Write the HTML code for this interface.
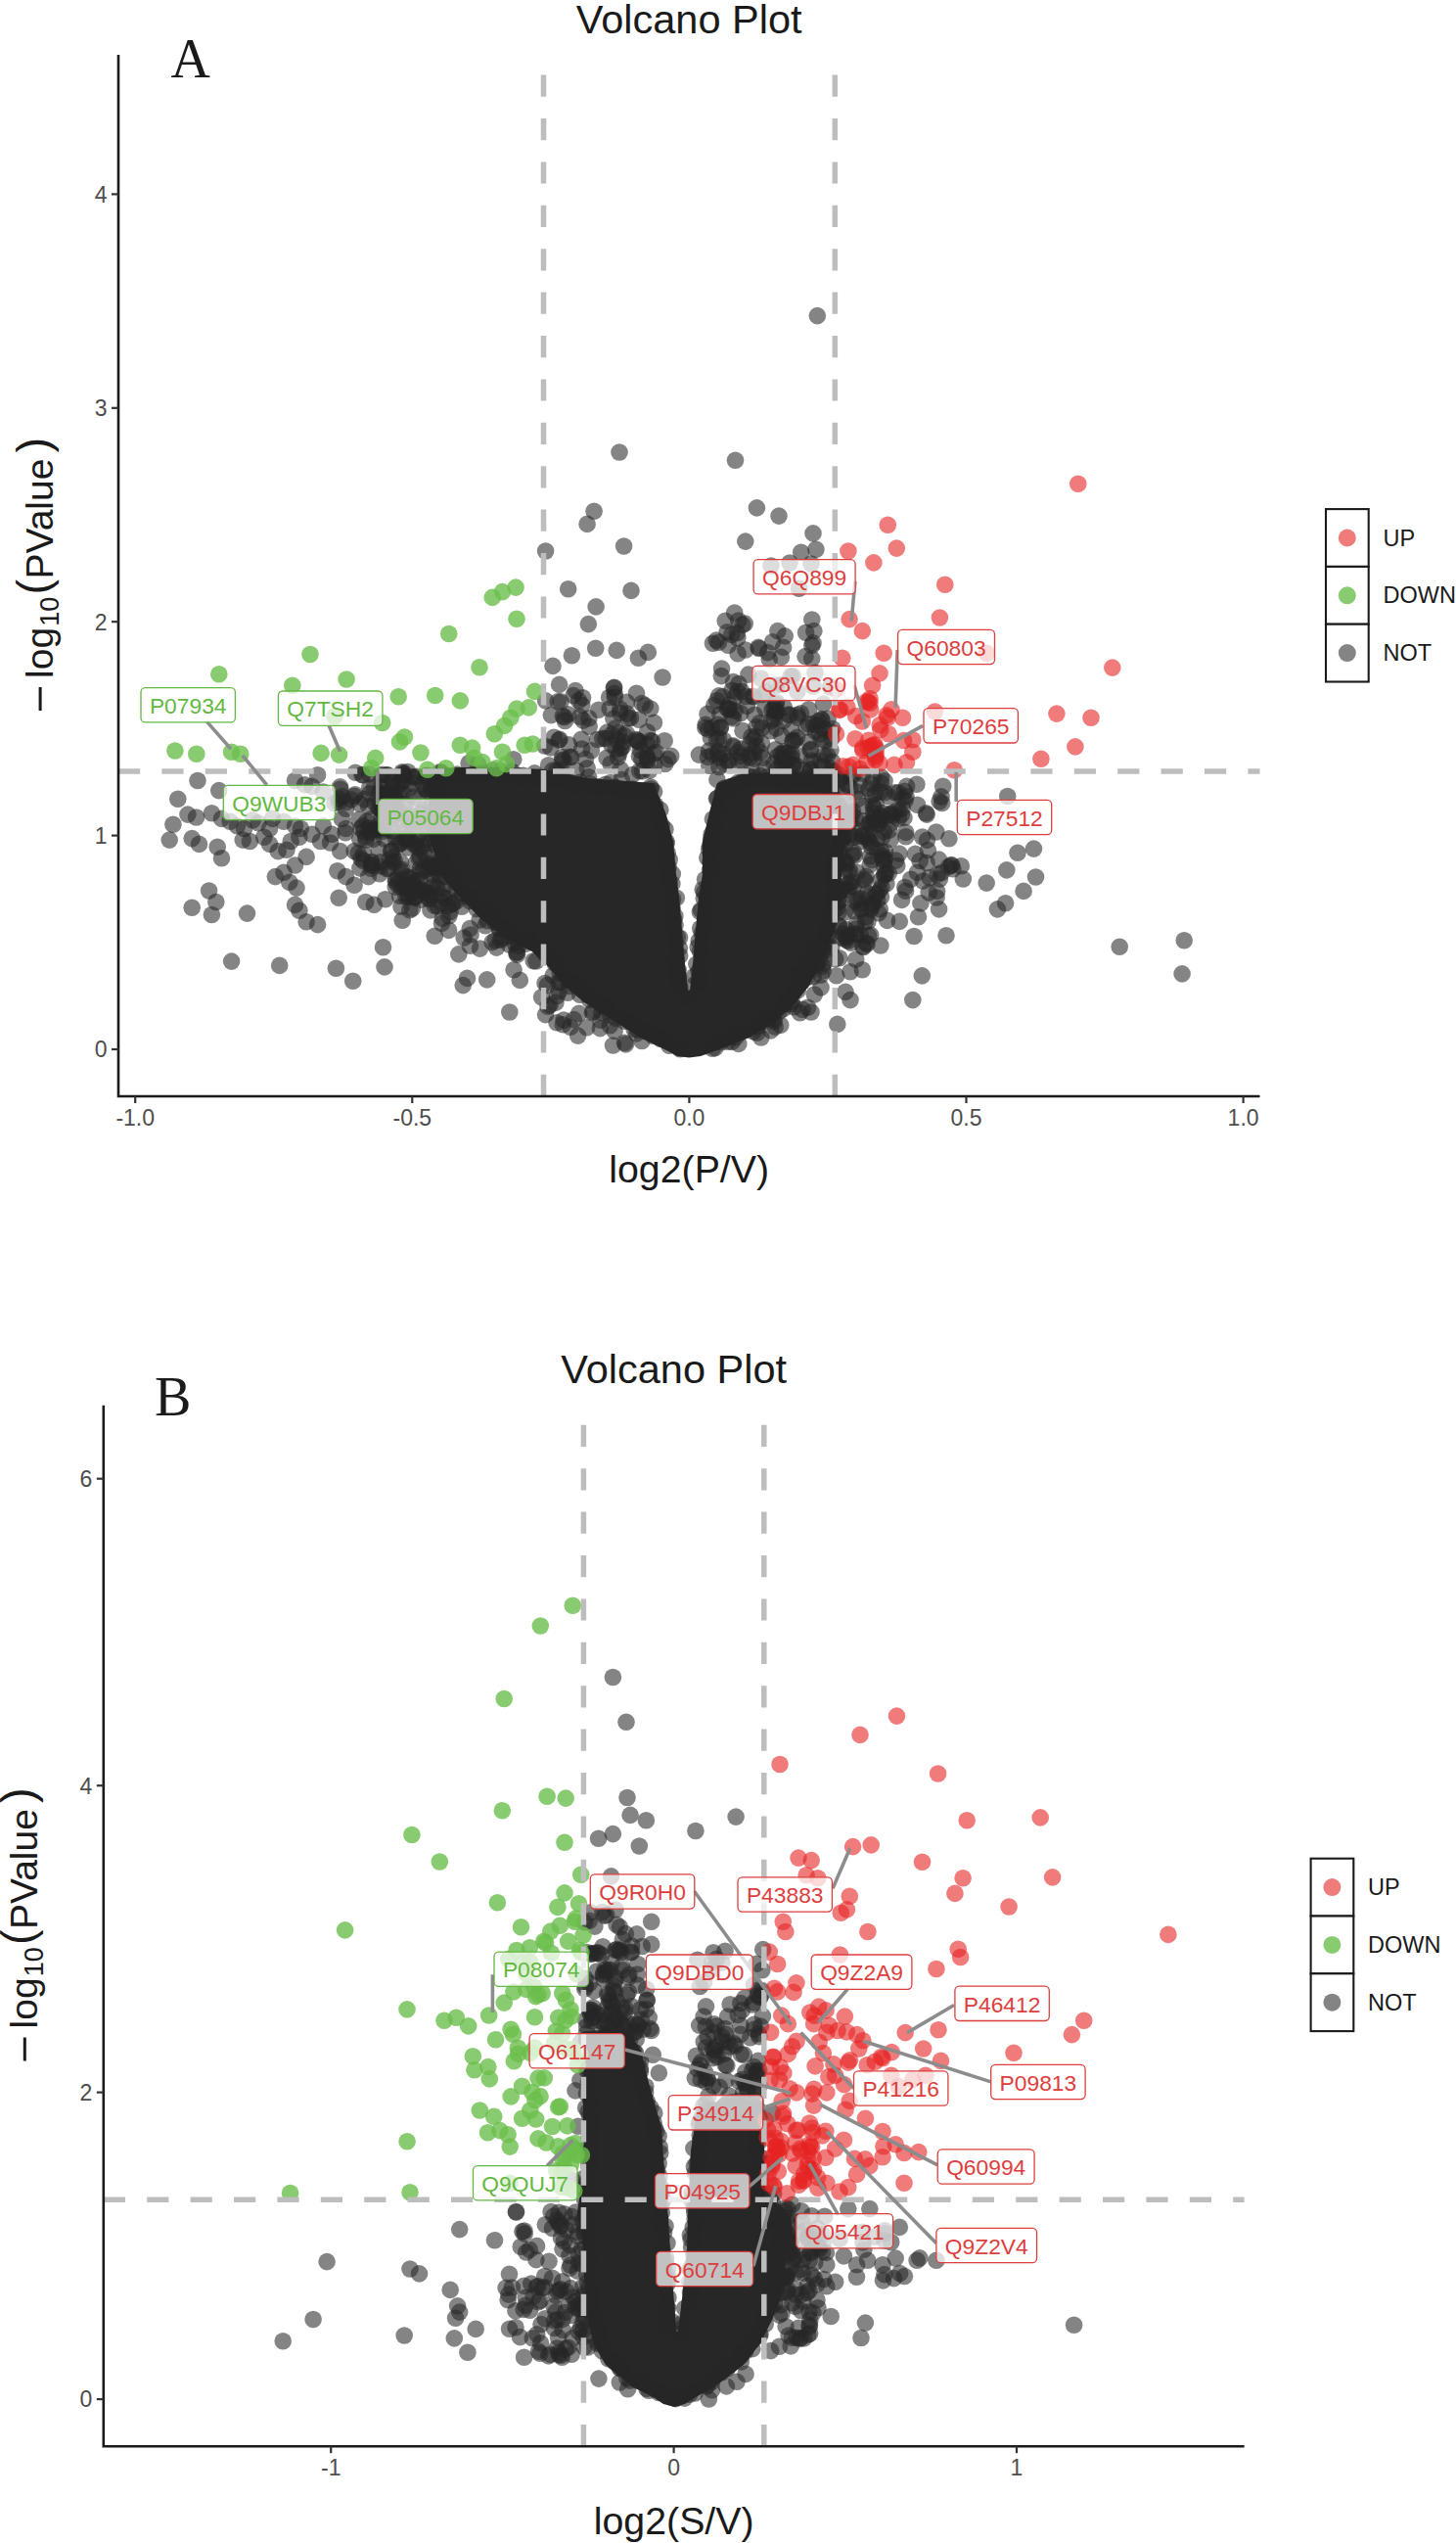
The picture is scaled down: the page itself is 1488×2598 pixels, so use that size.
<!DOCTYPE html><html><head><meta charset="utf-8"><style>html,body{margin:0;padding:0;background:#fff;}svg{display:block}text{font-family:"Liberation Sans", sans-serif}.n circle{fill:#272727}.u circle{fill:#e62323}.d circle{fill:#6cbe4c}.pts circle{fill-opacity:.57}.pts .u circle{fill-opacity:.6}.pts .d circle{fill-opacity:.8}</style></head><body>
<svg width="1488" height="2598" viewBox="0 0 1488 2598">
<rect width="1488" height="2598" fill="#fff"/>
<text x="704.2" y="33.5" font-size="41.5" fill="#1a1a1a" text-anchor="middle">Volcano Plot</text>
<text x="174.5" y="78.8" font-size="56" fill="#1a1a1a" style="font-family:'Liberation Serif',serif">A</text>
<g class="pts">
<path fill="#272727" d="M445 785L470 784L520 784L555 786L600 795L640 798L668 800L680 830L688 860L691 893L694 917L697 950L700 985L703 1012L705 1012L708 985L711 950L714 917L718 893L718 860L725 830L733 800L760 790L800 789L847 790L858 810L866 845L861 881L858 917L852 953L845 972L836 990L826 1008L812 1026L792 1044L766 1060L730 1074L716 1079L704.3 1080.5L692 1079L683 1074L654.3 1060L625.7 1042L597 1024L575.7 1006.4L561.4 988.6L543.6 972L515 958L490 937L470 917L452 897L440 860L438 820Z"/>
<g class="n">
<circle cx="387.6" cy="809.7" r="8.8"/>
<circle cx="347.5" cy="803.9" r="8.8"/>
<circle cx="346.1" cy="816.1" r="8.8"/>
<circle cx="349.4" cy="836.5" r="8.8"/>
<circle cx="366.7" cy="837.3" r="8.8"/>
<circle cx="380.1" cy="884.2" r="8.8"/>
<circle cx="379.7" cy="880.4" r="8.8"/>
<circle cx="378" cy="810.7" r="8.8"/>
<circle cx="369.9" cy="791.5" r="8.8"/>
<circle cx="379.3" cy="887.3" r="8.8"/>
<circle cx="386.9" cy="843.7" r="8.8"/>
<circle cx="388.6" cy="880.8" r="8.8"/>
<circle cx="388.8" cy="819.5" r="8.8"/>
<circle cx="371.4" cy="879.6" r="8.8"/>
<circle cx="384" cy="848" r="8.8"/>
<circle cx="362.9" cy="811.8" r="8.8"/>
<circle cx="367.7" cy="857.1" r="8.8"/>
<circle cx="359" cy="816.7" r="8.8"/>
<circle cx="390.2" cy="834.8" r="8.8"/>
<circle cx="381.5" cy="857.4" r="8.8"/>
<circle cx="388.8" cy="884.9" r="8.8"/>
<circle cx="363.2" cy="789.2" r="8.8"/>
<circle cx="382.5" cy="803.8" r="8.8"/>
<circle cx="374.9" cy="839.3" r="8.8"/>
<circle cx="372.4" cy="816.6" r="8.8"/>
<circle cx="377.5" cy="790.7" r="8.8"/>
<circle cx="378.9" cy="851.1" r="8.8"/>
<circle cx="376.7" cy="823.9" r="8.8"/>
<circle cx="371.2" cy="791.8" r="8.8"/>
<circle cx="371.9" cy="849.7" r="8.8"/>
<circle cx="387" cy="867.4" r="8.8"/>
<circle cx="377.2" cy="846" r="8.8"/>
<circle cx="374.1" cy="858.3" r="8.8"/>
<circle cx="369.1" cy="877.2" r="8.8"/>
<circle cx="379.7" cy="883.6" r="8.8"/>
<circle cx="369" cy="846.3" r="8.8"/>
<circle cx="388.4" cy="826.3" r="8.8"/>
<circle cx="371.5" cy="872.2" r="8.8"/>
<circle cx="378.1" cy="848.9" r="8.8"/>
<circle cx="383.3" cy="820.6" r="8.8"/>
<circle cx="379.7" cy="836.5" r="8.8"/>
<circle cx="377.8" cy="804.8" r="8.8"/>
<circle cx="353.6" cy="819.6" r="8.8"/>
<circle cx="353" cy="850.7" r="8.8"/>
<circle cx="386.8" cy="825" r="8.8"/>
<circle cx="349.8" cy="813.9" r="8.8"/>
<circle cx="366.1" cy="871.6" r="8.8"/>
<circle cx="367.6" cy="821" r="8.8"/>
<circle cx="346.3" cy="819.5" r="8.8"/>
<circle cx="381.3" cy="847.1" r="8.8"/>
<circle cx="391.2" cy="804.5" r="8.8"/>
<circle cx="416.2" cy="895.6" r="8.8"/>
<circle cx="392.2" cy="845.7" r="8.8"/>
<circle cx="443" cy="886.1" r="8.8"/>
<circle cx="402.4" cy="802.6" r="8.8"/>
<circle cx="435.1" cy="792.3" r="8.8"/>
<circle cx="438.4" cy="917.6" r="8.8"/>
<circle cx="404.1" cy="815.9" r="8.8"/>
<circle cx="440.8" cy="806.9" r="8.8"/>
<circle cx="420.7" cy="793.2" r="8.8"/>
<circle cx="452.9" cy="907.7" r="8.8"/>
<circle cx="418.2" cy="833.5" r="8.8"/>
<circle cx="428.2" cy="816.5" r="8.8"/>
<circle cx="429.6" cy="837.7" r="8.8"/>
<circle cx="432.6" cy="844.4" r="8.8"/>
<circle cx="433.2" cy="826.5" r="8.8"/>
<circle cx="453.8" cy="917" r="8.8"/>
<circle cx="402.7" cy="798.1" r="8.8"/>
<circle cx="398" cy="878.3" r="8.8"/>
<circle cx="399.6" cy="869.5" r="8.8"/>
<circle cx="390.4" cy="846.7" r="8.8"/>
<circle cx="429.3" cy="887.7" r="8.8"/>
<circle cx="422.8" cy="794.2" r="8.8"/>
<circle cx="408.2" cy="809.2" r="8.8"/>
<circle cx="412.2" cy="837.5" r="8.8"/>
<circle cx="422.7" cy="862.2" r="8.8"/>
<circle cx="441.5" cy="906.4" r="8.8"/>
<circle cx="438.4" cy="810" r="8.8"/>
<circle cx="415" cy="857.9" r="8.8"/>
<circle cx="401.4" cy="880.8" r="8.8"/>
<circle cx="404.2" cy="906.1" r="8.8"/>
<circle cx="401.8" cy="848.4" r="8.8"/>
<circle cx="416.7" cy="913.5" r="8.8"/>
<circle cx="407.7" cy="829.4" r="8.8"/>
<circle cx="431.1" cy="864.9" r="8.8"/>
<circle cx="421.3" cy="903.1" r="8.8"/>
<circle cx="412.6" cy="822" r="8.8"/>
<circle cx="416.7" cy="856.3" r="8.8"/>
<circle cx="395.4" cy="887.5" r="8.8"/>
<circle cx="442.9" cy="893.7" r="8.8"/>
<circle cx="414.8" cy="916.2" r="8.8"/>
<circle cx="436.5" cy="840.2" r="8.8"/>
<circle cx="395.9" cy="839.1" r="8.8"/>
<circle cx="444.5" cy="884.7" r="8.8"/>
<circle cx="429.4" cy="875.5" r="8.8"/>
<circle cx="450" cy="897.1" r="8.8"/>
<circle cx="390.6" cy="828.3" r="8.8"/>
<circle cx="436.8" cy="887.6" r="8.8"/>
<circle cx="429.1" cy="898.9" r="8.8"/>
<circle cx="396.4" cy="886.9" r="8.8"/>
<circle cx="404.5" cy="898.1" r="8.8"/>
<circle cx="395.7" cy="791.7" r="8.8"/>
<circle cx="423.7" cy="905.1" r="8.8"/>
<circle cx="427.4" cy="855.4" r="8.8"/>
<circle cx="406" cy="903.4" r="8.8"/>
<circle cx="422.3" cy="902.3" r="8.8"/>
<circle cx="405" cy="832.1" r="8.8"/>
<circle cx="392.7" cy="810.3" r="8.8"/>
<circle cx="436.3" cy="876.2" r="8.8"/>
<circle cx="404.2" cy="855.7" r="8.8"/>
<circle cx="396.9" cy="833.4" r="8.8"/>
<circle cx="403.3" cy="832.3" r="8.8"/>
<circle cx="425.8" cy="793.3" r="8.8"/>
<circle cx="443.8" cy="795.3" r="8.8"/>
<circle cx="419.1" cy="831.9" r="8.8"/>
<circle cx="411.2" cy="841.8" r="8.8"/>
<circle cx="405.8" cy="803.9" r="8.8"/>
<circle cx="404.3" cy="900.3" r="8.8"/>
<circle cx="426.8" cy="865.9" r="8.8"/>
<circle cx="439.9" cy="885.5" r="8.8"/>
<circle cx="417.3" cy="915.9" r="8.8"/>
<circle cx="414.8" cy="856.4" r="8.8"/>
<circle cx="440.6" cy="804.6" r="8.8"/>
<circle cx="437.6" cy="851" r="8.8"/>
<circle cx="408.6" cy="915.2" r="8.8"/>
<circle cx="388.9" cy="792.3" r="8.8"/>
<circle cx="409.2" cy="800.2" r="8.8"/>
<circle cx="439.9" cy="883.6" r="8.8"/>
<circle cx="430.9" cy="909.1" r="8.8"/>
<circle cx="438.7" cy="918.8" r="8.8"/>
<circle cx="433" cy="870.5" r="8.8"/>
<circle cx="411" cy="788.7" r="8.8"/>
<circle cx="410.3" cy="890.4" r="8.8"/>
<circle cx="438.1" cy="861.3" r="8.8"/>
<circle cx="417.5" cy="866" r="8.8"/>
<circle cx="424.3" cy="862.6" r="8.8"/>
<circle cx="412.4" cy="791.1" r="8.8"/>
<circle cx="418.7" cy="897.4" r="8.8"/>
<circle cx="441" cy="894" r="8.8"/>
<circle cx="425.5" cy="880.9" r="8.8"/>
<circle cx="432.8" cy="889.2" r="8.8"/>
<circle cx="435" cy="793.4" r="8.8"/>
<circle cx="429.1" cy="892" r="8.8"/>
<circle cx="418.6" cy="804.8" r="8.8"/>
<circle cx="416.7" cy="788.5" r="8.8"/>
<circle cx="441.5" cy="881.8" r="8.8"/>
<circle cx="417.7" cy="896.4" r="8.8"/>
<circle cx="408.5" cy="862.1" r="8.8"/>
<circle cx="390.9" cy="791.3" r="8.8"/>
<circle cx="389.7" cy="803.6" r="8.8"/>
<circle cx="407" cy="897" r="8.8"/>
<circle cx="446.2" cy="906" r="8.8"/>
<circle cx="433.9" cy="909.4" r="8.8"/>
<circle cx="424.8" cy="859.8" r="8.8"/>
<circle cx="414.6" cy="907.2" r="8.8"/>
<circle cx="396" cy="791.7" r="8.8"/>
<circle cx="448.3" cy="908.1" r="8.8"/>
<circle cx="391.2" cy="849.4" r="8.8"/>
<circle cx="391.2" cy="813.7" r="8.8"/>
<circle cx="411.8" cy="797.8" r="8.8"/>
<circle cx="392.3" cy="811.5" r="8.8"/>
<circle cx="400.1" cy="869.2" r="8.8"/>
<circle cx="393.6" cy="823.8" r="8.8"/>
<circle cx="394.4" cy="821.3" r="8.8"/>
<circle cx="402.7" cy="814.9" r="8.8"/>
<circle cx="438.2" cy="829.8" r="8.8"/>
<circle cx="411.7" cy="810.2" r="8.8"/>
<circle cx="425.3" cy="899.9" r="8.8"/>
<circle cx="401" cy="817.7" r="8.8"/>
<circle cx="418.6" cy="839.7" r="8.8"/>
<circle cx="398.7" cy="809" r="8.8"/>
<circle cx="448.3" cy="891.8" r="8.8"/>
<circle cx="414.8" cy="821.2" r="8.8"/>
<circle cx="428.2" cy="876.7" r="8.8"/>
<circle cx="393" cy="811.6" r="8.8"/>
<circle cx="399.1" cy="810.8" r="8.8"/>
<circle cx="437.7" cy="834.1" r="8.8"/>
<circle cx="435.9" cy="807.3" r="8.8"/>
<circle cx="417.2" cy="855.2" r="8.8"/>
<circle cx="451.2" cy="914.5" r="8.8"/>
<circle cx="415.9" cy="904.4" r="8.8"/>
<circle cx="434.5" cy="805.5" r="8.8"/>
<circle cx="422.3" cy="845.9" r="8.8"/>
<circle cx="432.9" cy="911" r="8.8"/>
<circle cx="400.5" cy="797.3" r="8.8"/>
<circle cx="434.6" cy="858.9" r="8.8"/>
<circle cx="404.6" cy="814.6" r="8.8"/>
<circle cx="403" cy="823.1" r="8.8"/>
<circle cx="411.8" cy="792.7" r="8.8"/>
<circle cx="432.3" cy="800.9" r="8.8"/>
<circle cx="426.4" cy="839.8" r="8.8"/>
<circle cx="390.3" cy="823.3" r="8.8"/>
<circle cx="430.8" cy="829.9" r="8.8"/>
<circle cx="422.8" cy="814.2" r="8.8"/>
<circle cx="401.6" cy="876" r="8.8"/>
<circle cx="403.4" cy="880.5" r="8.8"/>
<circle cx="411" cy="860.7" r="8.8"/>
<circle cx="399.5" cy="848.7" r="8.8"/>
<circle cx="407.1" cy="826.6" r="8.8"/>
<circle cx="416.6" cy="847.4" r="8.8"/>
<circle cx="405.5" cy="864.8" r="8.8"/>
<circle cx="422.4" cy="800.8" r="8.8"/>
<circle cx="395.3" cy="822.1" r="8.8"/>
<circle cx="393" cy="857" r="8.8"/>
<circle cx="445.7" cy="883" r="8.8"/>
<circle cx="410.8" cy="888.2" r="8.8"/>
<circle cx="438.3" cy="913.3" r="8.8"/>
<circle cx="404" cy="828.8" r="8.8"/>
<circle cx="394.2" cy="830.3" r="8.8"/>
<circle cx="409.3" cy="880.6" r="8.8"/>
<circle cx="412.1" cy="789.8" r="8.8"/>
<circle cx="460.1" cy="931.6" r="8.8"/>
<circle cx="447.6" cy="926" r="8.8"/>
<circle cx="480.2" cy="948.6" r="8.8"/>
<circle cx="457.5" cy="925.7" r="8.8"/>
<circle cx="451" cy="922.5" r="8.8"/>
<circle cx="503" cy="962.6" r="8.8"/>
<circle cx="511.4" cy="960.3" r="8.8"/>
<circle cx="490.1" cy="940" r="8.8"/>
<circle cx="528.6" cy="975.4" r="8.8"/>
<circle cx="528.4" cy="972.7" r="8.8"/>
<circle cx="410" cy="926.2" r="8.8"/>
<circle cx="481.1" cy="955" r="8.8"/>
<circle cx="423.6" cy="917.3" r="8.8"/>
<circle cx="429.8" cy="919.1" r="8.8"/>
<circle cx="461.8" cy="923.7" r="8.8"/>
<circle cx="466.5" cy="920.5" r="8.8"/>
<circle cx="410.7" cy="906.8" r="8.8"/>
<circle cx="444.4" cy="925.2" r="8.8"/>
<circle cx="510.3" cy="948.8" r="8.8"/>
<circle cx="426.6" cy="909" r="8.8"/>
<circle cx="439.2" cy="911.2" r="8.8"/>
<circle cx="438.7" cy="914.7" r="8.8"/>
<circle cx="424.6" cy="916" r="8.8"/>
<circle cx="529.7" cy="966.2" r="8.8"/>
<circle cx="452.4" cy="938.2" r="8.8"/>
<circle cx="420" cy="908.1" r="8.8"/>
<circle cx="471.8" cy="926.2" r="8.8"/>
<circle cx="458.6" cy="950.4" r="8.8"/>
<circle cx="506.1" cy="960.8" r="8.8"/>
<circle cx="458.8" cy="935.7" r="8.8"/>
<circle cx="458.4" cy="917.9" r="8.8"/>
<circle cx="507.5" cy="968.1" r="8.8"/>
<circle cx="418.7" cy="929.8" r="8.8"/>
<circle cx="423.4" cy="910.4" r="8.8"/>
<circle cx="496" cy="945.8" r="8.8"/>
<circle cx="423.6" cy="916.5" r="8.8"/>
<circle cx="421.4" cy="928" r="8.8"/>
<circle cx="439.9" cy="929.9" r="8.8"/>
<circle cx="525.5" cy="963.1" r="8.8"/>
<circle cx="474.1" cy="958.1" r="8.8"/>
<circle cx="598.5" cy="775.5" r="8.8"/>
<circle cx="661.5" cy="747.7" r="8.8"/>
<circle cx="654.3" cy="766.5" r="8.8"/>
<circle cx="571" cy="756.1" r="8.8"/>
<circle cx="656.5" cy="787.9" r="8.8"/>
<circle cx="623.2" cy="724" r="8.8"/>
<circle cx="653" cy="735.2" r="8.8"/>
<circle cx="685.7" cy="772.2" r="8.8"/>
<circle cx="628.1" cy="708.4" r="8.8"/>
<circle cx="655.9" cy="775.4" r="8.8"/>
<circle cx="574.6" cy="776.3" r="8.8"/>
<circle cx="636.5" cy="762.8" r="8.8"/>
<circle cx="640.9" cy="729.1" r="8.8"/>
<circle cx="651.4" cy="756.2" r="8.8"/>
<circle cx="601.9" cy="733.8" r="8.8"/>
<circle cx="564.9" cy="787" r="8.8"/>
<circle cx="636.8" cy="758.2" r="8.8"/>
<circle cx="624.1" cy="780.4" r="8.8"/>
<circle cx="620.1" cy="774.4" r="8.8"/>
<circle cx="656" cy="718.6" r="8.8"/>
<circle cx="659.3" cy="720.7" r="8.8"/>
<circle cx="632.6" cy="748.8" r="8.8"/>
<circle cx="632.8" cy="769.5" r="8.8"/>
<circle cx="596" cy="736.1" r="8.8"/>
<circle cx="661.6" cy="760.2" r="8.8"/>
<circle cx="633.8" cy="724.4" r="8.8"/>
<circle cx="560.6" cy="781.7" r="8.8"/>
<circle cx="600.2" cy="784.8" r="8.8"/>
<circle cx="626.8" cy="734.1" r="8.8"/>
<circle cx="670.6" cy="768.6" r="8.8"/>
<circle cx="633.8" cy="728.2" r="8.8"/>
<circle cx="629.4" cy="765.3" r="8.8"/>
<circle cx="592.5" cy="732.3" r="8.8"/>
<circle cx="602.2" cy="742.2" r="8.8"/>
<circle cx="582.3" cy="773.3" r="8.8"/>
<circle cx="566.2" cy="753.2" r="8.8"/>
<circle cx="576.8" cy="732.8" r="8.8"/>
<circle cx="661.2" cy="772.1" r="8.8"/>
<circle cx="576.1" cy="777" r="8.8"/>
<circle cx="594.7" cy="765" r="8.8"/>
<circle cx="624.8" cy="760.5" r="8.8"/>
<circle cx="664.6" cy="756.5" r="8.8"/>
<circle cx="628.4" cy="712.2" r="8.8"/>
<circle cx="634.1" cy="786" r="8.8"/>
<circle cx="575.3" cy="731.5" r="8.8"/>
<circle cx="653.1" cy="758.4" r="8.8"/>
<circle cx="640.5" cy="717.4" r="8.8"/>
<circle cx="663.9" cy="787.1" r="8.8"/>
<circle cx="618.9" cy="754.5" r="8.8"/>
<circle cx="682.9" cy="775.6" r="8.8"/>
<circle cx="570.1" cy="716.8" r="8.8"/>
<circle cx="642.1" cy="733.9" r="8.8"/>
<circle cx="572" cy="755.4" r="8.8"/>
<circle cx="622.6" cy="712.5" r="8.8"/>
<circle cx="620.5" cy="748.1" r="8.8"/>
<circle cx="625.3" cy="750.3" r="8.8"/>
<circle cx="583.8" cy="773.5" r="8.8"/>
<circle cx="581.5" cy="760.9" r="8.8"/>
<circle cx="615.7" cy="754.4" r="8.8"/>
<circle cx="574.5" cy="773.6" r="8.8"/>
<circle cx="649.9" cy="755.5" r="8.8"/>
<circle cx="586" cy="710.6" r="8.8"/>
<circle cx="653.6" cy="787.6" r="8.8"/>
<circle cx="666.4" cy="757.3" r="8.8"/>
<circle cx="563.3" cy="730.6" r="8.8"/>
<circle cx="640.3" cy="749.2" r="8.8"/>
<circle cx="562.7" cy="763.9" r="8.8"/>
<circle cx="594.8" cy="720.2" r="8.8"/>
<circle cx="652" cy="757.6" r="8.8"/>
<circle cx="611.7" cy="725.3" r="8.8"/>
<circle cx="650.5" cy="708.2" r="8.8"/>
<circle cx="595.6" cy="712.7" r="8.8"/>
<circle cx="679.6" cy="780.5" r="8.8"/>
<circle cx="629.2" cy="743.7" r="8.8"/>
<circle cx="679.2" cy="756.8" r="8.8"/>
<circle cx="580.7" cy="729.9" r="8.8"/>
<circle cx="668.3" cy="770" r="8.8"/>
<circle cx="664.8" cy="724" r="8.8"/>
<circle cx="604.4" cy="766.8" r="8.8"/>
<circle cx="573.1" cy="716.9" r="8.8"/>
<circle cx="644.5" cy="733.5" r="8.8"/>
<circle cx="594.2" cy="755.2" r="8.8"/>
<circle cx="661.8" cy="776.7" r="8.8"/>
<circle cx="638.1" cy="751.6" r="8.8"/>
<circle cx="668.4" cy="738.2" r="8.8"/>
<circle cx="627.4" cy="702.9" r="8.8"/>
<circle cx="631.1" cy="756.8" r="8.8"/>
<circle cx="568.9" cy="787.1" r="8.8"/>
<circle cx="661.4" cy="774.5" r="8.8"/>
<circle cx="610.6" cy="755.5" r="8.8"/>
<circle cx="591.5" cy="715.7" r="8.8"/>
<circle cx="668.9" cy="781" r="8.8"/>
<circle cx="631.5" cy="773.8" r="8.8"/>
<circle cx="653.4" cy="772.4" r="8.8"/>
<circle cx="634.6" cy="764.5" r="8.8"/>
<circle cx="833.4" cy="747.2" r="8.8"/>
<circle cx="735.8" cy="729.7" r="8.8"/>
<circle cx="809.2" cy="770.4" r="8.8"/>
<circle cx="721.2" cy="740.2" r="8.8"/>
<circle cx="837.7" cy="750" r="8.8"/>
<circle cx="815.1" cy="733.1" r="8.8"/>
<circle cx="826.5" cy="758" r="8.8"/>
<circle cx="766.4" cy="760.5" r="8.8"/>
<circle cx="766.3" cy="773.7" r="8.8"/>
<circle cx="770.6" cy="769.5" r="8.8"/>
<circle cx="723" cy="729.4" r="8.8"/>
<circle cx="749.6" cy="734" r="8.8"/>
<circle cx="739.7" cy="770.5" r="8.8"/>
<circle cx="732.5" cy="755.9" r="8.8"/>
<circle cx="828.4" cy="787.1" r="8.8"/>
<circle cx="808.9" cy="745.7" r="8.8"/>
<circle cx="849.7" cy="754.5" r="8.8"/>
<circle cx="834.5" cy="741" r="8.8"/>
<circle cx="798" cy="770.4" r="8.8"/>
<circle cx="745.1" cy="778" r="8.8"/>
<circle cx="745.9" cy="724.9" r="8.8"/>
<circle cx="812.5" cy="756.3" r="8.8"/>
<circle cx="810.4" cy="756.5" r="8.8"/>
<circle cx="736.5" cy="743" r="8.8"/>
<circle cx="788.1" cy="736.5" r="8.8"/>
<circle cx="848.9" cy="766.4" r="8.8"/>
<circle cx="747.9" cy="732.2" r="8.8"/>
<circle cx="724.8" cy="782.2" r="8.8"/>
<circle cx="740.8" cy="780.9" r="8.8"/>
<circle cx="798.8" cy="751.6" r="8.8"/>
<circle cx="793.8" cy="786" r="8.8"/>
<circle cx="791.5" cy="734.5" r="8.8"/>
<circle cx="754.9" cy="777.3" r="8.8"/>
<circle cx="757.5" cy="772.3" r="8.8"/>
<circle cx="734.5" cy="753.9" r="8.8"/>
<circle cx="739.3" cy="756" r="8.8"/>
<circle cx="776.5" cy="738.5" r="8.8"/>
<circle cx="757.4" cy="765" r="8.8"/>
<circle cx="791.2" cy="723.5" r="8.8"/>
<circle cx="818.5" cy="728.8" r="8.8"/>
<circle cx="801.4" cy="722.6" r="8.8"/>
<circle cx="728.8" cy="770.9" r="8.8"/>
<circle cx="727.4" cy="743.7" r="8.8"/>
<circle cx="826.5" cy="724.7" r="8.8"/>
<circle cx="778.5" cy="759.4" r="8.8"/>
<circle cx="726.4" cy="754" r="8.8"/>
<circle cx="840.1" cy="735.6" r="8.8"/>
<circle cx="800.6" cy="736.6" r="8.8"/>
<circle cx="723.4" cy="773.4" r="8.8"/>
<circle cx="798.7" cy="779.5" r="8.8"/>
<circle cx="767.9" cy="752.8" r="8.8"/>
<circle cx="763.3" cy="721.3" r="8.8"/>
<circle cx="724.5" cy="767.1" r="8.8"/>
<circle cx="743.4" cy="777.8" r="8.8"/>
<circle cx="749.1" cy="761.7" r="8.8"/>
<circle cx="790.8" cy="779.8" r="8.8"/>
<circle cx="805.5" cy="769.1" r="8.8"/>
<circle cx="832.2" cy="778.4" r="8.8"/>
<circle cx="826.1" cy="739.7" r="8.8"/>
<circle cx="845.6" cy="771.4" r="8.8"/>
<circle cx="781.7" cy="723.8" r="8.8"/>
<circle cx="842.9" cy="756.5" r="8.8"/>
<circle cx="794.6" cy="772.9" r="8.8"/>
<circle cx="806" cy="786.5" r="8.8"/>
<circle cx="842.5" cy="771.8" r="8.8"/>
<circle cx="831.3" cy="739.6" r="8.8"/>
<circle cx="773.2" cy="762.3" r="8.8"/>
<circle cx="751" cy="726" r="8.8"/>
<circle cx="824.1" cy="743" r="8.8"/>
<circle cx="765.1" cy="770.8" r="8.8"/>
<circle cx="770.5" cy="755.1" r="8.8"/>
<circle cx="836.7" cy="736.6" r="8.8"/>
<circle cx="789.1" cy="725.3" r="8.8"/>
<circle cx="734.2" cy="767.5" r="8.8"/>
<circle cx="849.3" cy="787.5" r="8.8"/>
<circle cx="828.1" cy="766.6" r="8.8"/>
<circle cx="849" cy="747.6" r="8.8"/>
<circle cx="799.9" cy="773.7" r="8.8"/>
<circle cx="814.6" cy="753.2" r="8.8"/>
<circle cx="842" cy="744.5" r="8.8"/>
<circle cx="733.4" cy="769.5" r="8.8"/>
<circle cx="787.7" cy="746.8" r="8.8"/>
<circle cx="772.5" cy="752.3" r="8.8"/>
<circle cx="744.4" cy="724.1" r="8.8"/>
<circle cx="815.2" cy="730.4" r="8.8"/>
<circle cx="793.4" cy="744.1" r="8.8"/>
<circle cx="736.1" cy="743.4" r="8.8"/>
<circle cx="777.1" cy="768.6" r="8.8"/>
<circle cx="801.7" cy="778.2" r="8.8"/>
<circle cx="850.8" cy="744.5" r="8.8"/>
<circle cx="771.3" cy="730.3" r="8.8"/>
<circle cx="850.5" cy="778" r="8.8"/>
<circle cx="799.5" cy="781.5" r="8.8"/>
<circle cx="802.2" cy="769.4" r="8.8"/>
<circle cx="829.4" cy="777.1" r="8.8"/>
<circle cx="749.3" cy="763.1" r="8.8"/>
<circle cx="734.8" cy="783.6" r="8.8"/>
<circle cx="800.9" cy="767.9" r="8.8"/>
<circle cx="817.4" cy="772" r="8.8"/>
<circle cx="753.7" cy="768.8" r="8.8"/>
<circle cx="772.9" cy="742.9" r="8.8"/>
<circle cx="770.6" cy="775.1" r="8.8"/>
<circle cx="810" cy="757.4" r="8.8"/>
<circle cx="805.2" cy="730" r="8.8"/>
<circle cx="847.5" cy="784.5" r="8.8"/>
<circle cx="735.7" cy="774.1" r="8.8"/>
<circle cx="828.8" cy="765.3" r="8.8"/>
<circle cx="723.5" cy="745.1" r="8.8"/>
<circle cx="810.7" cy="781.4" r="8.8"/>
<circle cx="759" cy="746.6" r="8.8"/>
<circle cx="846.1" cy="734.4" r="8.8"/>
<circle cx="838.7" cy="777.6" r="8.8"/>
<circle cx="807.2" cy="730.2" r="8.8"/>
<circle cx="813.8" cy="782.3" r="8.8"/>
<circle cx="839.3" cy="755.2" r="8.8"/>
<circle cx="793.4" cy="727.3" r="8.8"/>
<circle cx="791.8" cy="729.9" r="8.8"/>
<circle cx="793.6" cy="726.1" r="8.8"/>
<circle cx="808.8" cy="773.7" r="8.8"/>
<circle cx="839.3" cy="734.6" r="8.8"/>
<circle cx="779.6" cy="774.4" r="8.8"/>
<circle cx="804.1" cy="779.1" r="8.8"/>
<circle cx="757" cy="728.6" r="8.8"/>
<circle cx="743.2" cy="723.9" r="8.8"/>
<circle cx="720.8" cy="743.4" r="8.8"/>
<circle cx="733.9" cy="740.3" r="8.8"/>
<circle cx="778.9" cy="743.7" r="8.8"/>
<circle cx="758.6" cy="777.6" r="8.8"/>
<circle cx="792.7" cy="765.7" r="8.8"/>
<circle cx="734.7" cy="710.9" r="8.8"/>
<circle cx="775" cy="661.4" r="8.8"/>
<circle cx="789.6" cy="655.7" r="8.8"/>
<circle cx="738.5" cy="711.6" r="8.8"/>
<circle cx="747.7" cy="648.4" r="8.8"/>
<circle cx="743.1" cy="645.9" r="8.8"/>
<circle cx="754.9" cy="698.6" r="8.8"/>
<circle cx="841.6" cy="719.1" r="8.8"/>
<circle cx="728.5" cy="657.3" r="8.8"/>
<circle cx="779.3" cy="709.6" r="8.8"/>
<circle cx="737.6" cy="683.1" r="8.8"/>
<circle cx="754.7" cy="634" r="8.8"/>
<circle cx="810.3" cy="690.8" r="8.8"/>
<circle cx="798.4" cy="671.4" r="8.8"/>
<circle cx="829.8" cy="659.4" r="8.8"/>
<circle cx="737.3" cy="690.6" r="8.8"/>
<circle cx="751.3" cy="712" r="8.8"/>
<circle cx="758" cy="706.4" r="8.8"/>
<circle cx="829.7" cy="673" r="8.8"/>
<circle cx="770.4" cy="711.7" r="8.8"/>
<circle cx="753.3" cy="646.8" r="8.8"/>
<circle cx="814.9" cy="706.5" r="8.8"/>
<circle cx="768.9" cy="711.2" r="8.8"/>
<circle cx="823.6" cy="646.2" r="8.8"/>
<circle cx="753.8" cy="652" r="8.8"/>
<circle cx="800.6" cy="661.4" r="8.8"/>
<circle cx="798.8" cy="699.5" r="8.8"/>
<circle cx="783.2" cy="706.7" r="8.8"/>
<circle cx="793" cy="719.3" r="8.8"/>
<circle cx="753.6" cy="706.9" r="8.8"/>
<circle cx="786.3" cy="673.6" r="8.8"/>
<circle cx="823" cy="670.6" r="8.8"/>
<circle cx="749.5" cy="696.6" r="8.8"/>
<circle cx="745.3" cy="720.2" r="8.8"/>
<circle cx="764.9" cy="689.1" r="8.8"/>
<circle cx="761.3" cy="637.1" r="8.8"/>
<circle cx="778" cy="693.4" r="8.8"/>
<circle cx="762.1" cy="711.5" r="8.8"/>
<circle cx="848.6" cy="702" r="8.8"/>
<circle cx="748" cy="705.3" r="8.8"/>
<circle cx="831" cy="701" r="8.8"/>
<circle cx="775.7" cy="662.5" r="8.8"/>
<circle cx="761.9" cy="664" r="8.8"/>
<circle cx="793.5" cy="717.3" r="8.8"/>
<circle cx="754.1" cy="667.7" r="8.8"/>
<circle cx="793.5" cy="700.1" r="8.8"/>
<circle cx="734.5" cy="656.2" r="8.8"/>
<circle cx="808.2" cy="690.7" r="8.8"/>
<circle cx="732.7" cy="715.8" r="8.8"/>
<circle cx="833" cy="687.2" r="8.8"/>
<circle cx="744.2" cy="659.2" r="8.8"/>
<circle cx="784.6" cy="666.6" r="8.8"/>
<circle cx="862.3" cy="854.7" r="8.8"/>
<circle cx="882.4" cy="967.6" r="8.8"/>
<circle cx="863.7" cy="888" r="8.8"/>
<circle cx="868.8" cy="839.5" r="8.8"/>
<circle cx="857.4" cy="912.1" r="8.8"/>
<circle cx="889.7" cy="929.2" r="8.8"/>
<circle cx="869.4" cy="905.1" r="8.8"/>
<circle cx="889.9" cy="927" r="8.8"/>
<circle cx="873.3" cy="930.9" r="8.8"/>
<circle cx="859.3" cy="958.1" r="8.8"/>
<circle cx="857.2" cy="868.5" r="8.8"/>
<circle cx="855.5" cy="879.1" r="8.8"/>
<circle cx="856.8" cy="921.5" r="8.8"/>
<circle cx="894.2" cy="810.5" r="8.8"/>
<circle cx="882.4" cy="852.8" r="8.8"/>
<circle cx="872.2" cy="906.2" r="8.8"/>
<circle cx="893.6" cy="839.3" r="8.8"/>
<circle cx="908.2" cy="813.7" r="8.8"/>
<circle cx="867.5" cy="902.8" r="8.8"/>
<circle cx="880.8" cy="928.3" r="8.8"/>
<circle cx="883.1" cy="898.3" r="8.8"/>
<circle cx="867.5" cy="820.9" r="8.8"/>
<circle cx="883.9" cy="900.1" r="8.8"/>
<circle cx="856.2" cy="927.6" r="8.8"/>
<circle cx="886.9" cy="941.2" r="8.8"/>
<circle cx="862.5" cy="831.1" r="8.8"/>
<circle cx="891.1" cy="878.6" r="8.8"/>
<circle cx="891.6" cy="922.8" r="8.8"/>
<circle cx="895.9" cy="841.7" r="8.8"/>
<circle cx="892.2" cy="823" r="8.8"/>
<circle cx="895.3" cy="822.3" r="8.8"/>
<circle cx="864.2" cy="862.1" r="8.8"/>
<circle cx="855.1" cy="906.9" r="8.8"/>
<circle cx="900.3" cy="837.8" r="8.8"/>
<circle cx="900.5" cy="833.7" r="8.8"/>
<circle cx="896.2" cy="913.8" r="8.8"/>
<circle cx="904.5" cy="870" r="8.8"/>
<circle cx="857.2" cy="945.6" r="8.8"/>
<circle cx="879.7" cy="929" r="8.8"/>
<circle cx="874.5" cy="854.9" r="8.8"/>
<circle cx="873.2" cy="874.2" r="8.8"/>
<circle cx="896.4" cy="856.9" r="8.8"/>
<circle cx="867.5" cy="890.7" r="8.8"/>
<circle cx="870.2" cy="855.7" r="8.8"/>
<circle cx="880.7" cy="854.4" r="8.8"/>
<circle cx="863.6" cy="904.8" r="8.8"/>
<circle cx="871.1" cy="873.4" r="8.8"/>
<circle cx="865" cy="956.7" r="8.8"/>
<circle cx="853.9" cy="828.1" r="8.8"/>
<circle cx="857.2" cy="823.4" r="8.8"/>
<circle cx="869.7" cy="793.9" r="8.8"/>
<circle cx="875.1" cy="954.8" r="8.8"/>
<circle cx="876" cy="891.4" r="8.8"/>
<circle cx="883.7" cy="823.4" r="8.8"/>
<circle cx="859.8" cy="919.6" r="8.8"/>
<circle cx="873.5" cy="953.5" r="8.8"/>
<circle cx="903.7" cy="894" r="8.8"/>
<circle cx="866.5" cy="909" r="8.8"/>
<circle cx="904.1" cy="809.7" r="8.8"/>
<circle cx="864.4" cy="833.7" r="8.8"/>
<circle cx="902.2" cy="878.1" r="8.8"/>
<circle cx="901.9" cy="830.5" r="8.8"/>
<circle cx="868.5" cy="889.3" r="8.8"/>
<circle cx="914" cy="829.7" r="8.8"/>
<circle cx="901.5" cy="855.2" r="8.8"/>
<circle cx="882" cy="790.2" r="8.8"/>
<circle cx="889.3" cy="874.8" r="8.8"/>
<circle cx="887.8" cy="805.8" r="8.8"/>
<circle cx="889.5" cy="860.8" r="8.8"/>
<circle cx="874.7" cy="949.1" r="8.8"/>
<circle cx="873" cy="846.5" r="8.8"/>
<circle cx="890.3" cy="800.8" r="8.8"/>
<circle cx="900.6" cy="794" r="8.8"/>
<circle cx="893" cy="825.5" r="8.8"/>
<circle cx="904.5" cy="877.1" r="8.8"/>
<circle cx="904.1" cy="797.9" r="8.8"/>
<circle cx="867.9" cy="955.2" r="8.8"/>
<circle cx="862.2" cy="838.8" r="8.8"/>
<circle cx="891.6" cy="812.9" r="8.8"/>
<circle cx="875.1" cy="808.8" r="8.8"/>
<circle cx="896.2" cy="868.6" r="8.8"/>
<circle cx="864.5" cy="880.7" r="8.8"/>
<circle cx="899.3" cy="928.8" r="8.8"/>
<circle cx="863.6" cy="833.5" r="8.8"/>
<circle cx="897.2" cy="837.7" r="8.8"/>
<circle cx="886.5" cy="856.4" r="8.8"/>
<circle cx="857.8" cy="796.2" r="8.8"/>
<circle cx="889.7" cy="955.1" r="8.8"/>
<circle cx="886.1" cy="912.3" r="8.8"/>
<circle cx="868.7" cy="805" r="8.8"/>
<circle cx="903.5" cy="849.6" r="8.8"/>
<circle cx="884.7" cy="937" r="8.8"/>
<circle cx="864.5" cy="949.5" r="8.8"/>
<circle cx="868.2" cy="829.7" r="8.8"/>
<circle cx="893.2" cy="835.9" r="8.8"/>
<circle cx="867" cy="961.4" r="8.8"/>
<circle cx="900.5" cy="916.2" r="8.8"/>
<circle cx="900.8" cy="870.1" r="8.8"/>
<circle cx="855.5" cy="883.6" r="8.8"/>
<circle cx="874.4" cy="920.4" r="8.8"/>
<circle cx="890.9" cy="865.4" r="8.8"/>
<circle cx="871.5" cy="828.9" r="8.8"/>
<circle cx="859.5" cy="856.8" r="8.8"/>
<circle cx="885.1" cy="963.3" r="8.8"/>
<circle cx="899.7" cy="809" r="8.8"/>
<circle cx="857.2" cy="791.6" r="8.8"/>
<circle cx="865.1" cy="882.2" r="8.8"/>
<circle cx="896.8" cy="919.5" r="8.8"/>
<circle cx="903.4" cy="884.2" r="8.8"/>
<circle cx="857.2" cy="917.6" r="8.8"/>
<circle cx="887.8" cy="858.5" r="8.8"/>
<circle cx="892.4" cy="795.3" r="8.8"/>
<circle cx="901" cy="834.6" r="8.8"/>
<circle cx="912.2" cy="833.2" r="8.8"/>
<circle cx="856.6" cy="878.9" r="8.8"/>
<circle cx="882.8" cy="838.7" r="8.8"/>
<circle cx="865.4" cy="802.1" r="8.8"/>
<circle cx="908.5" cy="848.2" r="8.8"/>
<circle cx="858" cy="797" r="8.8"/>
<circle cx="886.6" cy="853.4" r="8.8"/>
<circle cx="887.5" cy="916.4" r="8.8"/>
<circle cx="876.6" cy="816.4" r="8.8"/>
<circle cx="889.1" cy="883.6" r="8.8"/>
<circle cx="854.1" cy="815.3" r="8.8"/>
<circle cx="910.7" cy="831" r="8.8"/>
<circle cx="872" cy="791.5" r="8.8"/>
<circle cx="878.2" cy="802.1" r="8.8"/>
<circle cx="888" cy="841.4" r="8.8"/>
<circle cx="886.1" cy="964.3" r="8.8"/>
<circle cx="855.3" cy="835.9" r="8.8"/>
<circle cx="858.6" cy="910.4" r="8.8"/>
<circle cx="898" cy="932.9" r="8.8"/>
<circle cx="885" cy="895.4" r="8.8"/>
<circle cx="889.3" cy="840.1" r="8.8"/>
<circle cx="870.2" cy="901.3" r="8.8"/>
<circle cx="875.5" cy="944" r="8.8"/>
<circle cx="876.5" cy="922.8" r="8.8"/>
<circle cx="874.4" cy="836.3" r="8.8"/>
<circle cx="910.3" cy="841.2" r="8.8"/>
<circle cx="876.5" cy="918.5" r="8.8"/>
<circle cx="910.3" cy="857.2" r="8.8"/>
<circle cx="891.9" cy="924.2" r="8.8"/>
<circle cx="897.6" cy="842.4" r="8.8"/>
<circle cx="880.1" cy="917.8" r="8.8"/>
<circle cx="856.7" cy="932.2" r="8.8"/>
<circle cx="884.1" cy="942.1" r="8.8"/>
<circle cx="879.2" cy="955.1" r="8.8"/>
<circle cx="892.7" cy="830.7" r="8.8"/>
<circle cx="903.5" cy="879" r="8.8"/>
<circle cx="872.7" cy="871.1" r="8.8"/>
<circle cx="898.8" cy="909.7" r="8.8"/>
<circle cx="890.1" cy="842.6" r="8.8"/>
<circle cx="895.2" cy="912.7" r="8.8"/>
<circle cx="881.9" cy="967" r="8.8"/>
<circle cx="880.4" cy="859.5" r="8.8"/>
<circle cx="972.4" cy="884.2" r="8.8"/>
<circle cx="924.5" cy="808.3" r="8.8"/>
<circle cx="950" cy="896.6" r="8.8"/>
<circle cx="917.9" cy="827.3" r="8.8"/>
<circle cx="969.7" cy="885.4" r="8.8"/>
<circle cx="957.1" cy="917" r="8.8"/>
<circle cx="940.1" cy="879.5" r="8.8"/>
<circle cx="900.2" cy="899.1" r="8.8"/>
<circle cx="921.3" cy="832.2" r="8.8"/>
<circle cx="947.4" cy="858.4" r="8.8"/>
<circle cx="906.7" cy="940.4" r="8.8"/>
<circle cx="905.9" cy="902.9" r="8.8"/>
<circle cx="959.5" cy="878.1" r="8.8"/>
<circle cx="926" cy="813.5" r="8.8"/>
<circle cx="925.1" cy="817.7" r="8.8"/>
<circle cx="905.8" cy="891.6" r="8.8"/>
<circle cx="924.8" cy="906.5" r="8.8"/>
<circle cx="901" cy="906.4" r="8.8"/>
<circle cx="940.9" cy="922.9" r="8.8"/>
<circle cx="942.6" cy="855" r="8.8"/>
<circle cx="937.5" cy="891.2" r="8.8"/>
<circle cx="917.8" cy="809.8" r="8.8"/>
<circle cx="915.6" cy="879.1" r="8.8"/>
<circle cx="922.3" cy="815.6" r="8.8"/>
<circle cx="949.2" cy="911.9" r="8.8"/>
<circle cx="924" cy="835.4" r="8.8"/>
<circle cx="908.9" cy="832.3" r="8.8"/>
<circle cx="972.3" cy="883.6" r="8.8"/>
<circle cx="943.3" cy="900" r="8.8"/>
<circle cx="960.1" cy="818.8" r="8.8"/>
<circle cx="918.3" cy="836.1" r="8.8"/>
<circle cx="919.3" cy="941.4" r="8.8"/>
<circle cx="935.4" cy="872.4" r="8.8"/>
<circle cx="902.1" cy="874.6" r="8.8"/>
<circle cx="908.4" cy="892.1" r="8.8"/>
<circle cx="922.2" cy="825.6" r="8.8"/>
<circle cx="948.4" cy="868.6" r="8.8"/>
<circle cx="958.1" cy="893.4" r="8.8"/>
<circle cx="904.3" cy="893.3" r="8.8"/>
<circle cx="925.6" cy="910.3" r="8.8"/>
<circle cx="921.6" cy="919.4" r="8.8"/>
<circle cx="925.8" cy="854.7" r="8.8"/>
<circle cx="900.5" cy="800.1" r="8.8"/>
<circle cx="937.5" cy="822.3" r="8.8"/>
<circle cx="956.8" cy="850" r="8.8"/>
<circle cx="938.5" cy="936.7" r="8.8"/>
<circle cx="962.7" cy="820.5" r="8.8"/>
<circle cx="930.8" cy="898.3" r="8.8"/>
<circle cx="918.9" cy="872" r="8.8"/>
<circle cx="925.7" cy="850.4" r="8.8"/>
<circle cx="962" cy="813.9" r="8.8"/>
<circle cx="946.4" cy="830.7" r="8.8"/>
<circle cx="916.8" cy="884.5" r="8.8"/>
<circle cx="914.7" cy="809.7" r="8.8"/>
<circle cx="962.2" cy="891.5" r="8.8"/>
<circle cx="590.6" cy="1058.1" r="8.8"/>
<circle cx="562.2" cy="1026.8" r="8.8"/>
<circle cx="531.3" cy="1001.4" r="8.8"/>
<circle cx="557.5" cy="1036.6" r="8.8"/>
<circle cx="580.2" cy="1014.2" r="8.8"/>
<circle cx="557" cy="1004.5" r="8.8"/>
<circle cx="656" cy="1063.5" r="8.8"/>
<circle cx="650.6" cy="1055.9" r="8.8"/>
<circle cx="626.5" cy="1068" r="8.8"/>
<circle cx="618.5" cy="1027.1" r="8.8"/>
<circle cx="576.1" cy="1042.1" r="8.8"/>
<circle cx="559.3" cy="1006.6" r="8.8"/>
<circle cx="638.5" cy="1065.3" r="8.8"/>
<circle cx="569.2" cy="1017.6" r="8.8"/>
<circle cx="591.7" cy="1035.4" r="8.8"/>
<circle cx="553.6" cy="1018.7" r="8.8"/>
<circle cx="599.8" cy="1049.8" r="8.8"/>
<circle cx="575.3" cy="1046.7" r="8.8"/>
<circle cx="567.9" cy="1024.2" r="8.8"/>
<circle cx="560.1" cy="1028.2" r="8.8"/>
<circle cx="606.1" cy="1033.5" r="8.8"/>
<circle cx="582.9" cy="1049.3" r="8.8"/>
<circle cx="586.4" cy="1041.6" r="8.8"/>
<circle cx="569" cy="1044.7" r="8.8"/>
<circle cx="614.8" cy="1034.6" r="8.8"/>
<circle cx="623.3" cy="1047.8" r="8.8"/>
<circle cx="571.2" cy="1012.7" r="8.8"/>
<circle cx="639.5" cy="1066.9" r="8.8"/>
<circle cx="545.2" cy="981.8" r="8.8"/>
<circle cx="613.3" cy="1050.6" r="8.8"/>
<circle cx="572.7" cy="1003.3" r="8.8"/>
<circle cx="825.6" cy="1029.3" r="8.8"/>
<circle cx="831.2" cy="997.8" r="8.8"/>
<circle cx="792.2" cy="1049.1" r="8.8"/>
<circle cx="791.3" cy="1043.5" r="8.8"/>
<circle cx="748.2" cy="1064.4" r="8.8"/>
<circle cx="819.3" cy="1002.6" r="8.8"/>
<circle cx="845.3" cy="955.4" r="8.8"/>
<circle cx="828" cy="979.1" r="8.8"/>
<circle cx="864.4" cy="958" r="8.8"/>
<circle cx="817.5" cy="1034.7" r="8.8"/>
<circle cx="854.8" cy="996.7" r="8.8"/>
<circle cx="842.4" cy="984.1" r="8.8"/>
<circle cx="837.8" cy="981.1" r="8.8"/>
<circle cx="817.1" cy="1000.7" r="8.8"/>
<circle cx="833.2" cy="984.6" r="8.8"/>
<circle cx="874.7" cy="980.3" r="8.8"/>
<circle cx="857.8" cy="978.7" r="8.8"/>
<circle cx="841.3" cy="991.7" r="8.8"/>
<circle cx="834.2" cy="972.8" r="8.8"/>
<circle cx="839" cy="1008.9" r="8.8"/>
<circle cx="817.2" cy="995.4" r="8.8"/>
<circle cx="857.8" cy="946.8" r="8.8"/>
<circle cx="824" cy="986.4" r="8.8"/>
<circle cx="773.6" cy="1055.3" r="8.8"/>
<circle cx="812.9" cy="1009.4" r="8.8"/>
<circle cx="847.4" cy="969.9" r="8.8"/>
<circle cx="864.8" cy="960.2" r="8.8"/>
<circle cx="833" cy="971" r="8.8"/>
<circle cx="837.8" cy="975.7" r="8.8"/>
<circle cx="869.9" cy="963.2" r="8.8"/>
<circle cx="853.7" cy="979.6" r="8.8"/>
<circle cx="633" cy="462" r="8.8"/>
<circle cx="607.1" cy="522.2" r="8.8"/>
<circle cx="600.1" cy="535.4" r="8.8"/>
<circle cx="557.6" cy="563" r="8.8"/>
<circle cx="637.6" cy="558" r="8.8"/>
<circle cx="580.7" cy="601.7" r="8.8"/>
<circle cx="645" cy="603.4" r="8.8"/>
<circle cx="609.1" cy="619.9" r="8.8"/>
<circle cx="601.3" cy="637.6" r="8.8"/>
<circle cx="584.4" cy="669.7" r="8.8"/>
<circle cx="608.7" cy="662.3" r="8.8"/>
<circle cx="630.2" cy="664.4" r="8.8"/>
<circle cx="652.4" cy="672.2" r="8.8"/>
<circle cx="662.3" cy="666.4" r="8.8"/>
<circle cx="565" cy="680.4" r="8.8"/>
<circle cx="677.1" cy="692" r="8.8"/>
<circle cx="571.6" cy="699.4" r="8.8"/>
<circle cx="588.1" cy="705.6" r="8.8"/>
<circle cx="627.7" cy="702.3" r="8.8"/>
<circle cx="557.6" cy="715.9" r="8.8"/>
<circle cx="577.4" cy="736.5" r="8.8"/>
<circle cx="556.8" cy="762" r="8.8"/>
<circle cx="751.5" cy="470.3" r="8.8"/>
<circle cx="773.4" cy="518.9" r="8.8"/>
<circle cx="796" cy="527.1" r="8.8"/>
<circle cx="761.8" cy="553.1" r="8.8"/>
<circle cx="831" cy="544.9" r="8.8"/>
<circle cx="818.7" cy="564.2" r="8.8"/>
<circle cx="833.9" cy="561.3" r="8.8"/>
<circle cx="816.6" cy="601.3" r="8.8"/>
<circle cx="750.7" cy="626" r="8.8"/>
<circle cx="741.2" cy="634.3" r="8.8"/>
<circle cx="732.1" cy="654.1" r="8.8"/>
<circle cx="758.9" cy="638.4" r="8.8"/>
<circle cx="794.8" cy="644.6" r="8.8"/>
<circle cx="802.2" cy="649.9" r="8.8"/>
<circle cx="829.8" cy="633" r="8.8"/>
<circle cx="831.9" cy="644.6" r="8.8"/>
<circle cx="831" cy="656.9" r="8.8"/>
<circle cx="729.7" cy="720.8" r="8.8"/>
<circle cx="714.4" cy="771.1" r="8.8"/>
<circle cx="1029.7" cy="813.5" r="8.8"/>
<circle cx="1040" cy="871.2" r="8.8"/>
<circle cx="1056.5" cy="867.1" r="8.8"/>
<circle cx="1028.8" cy="888.9" r="8.8"/>
<circle cx="1058.5" cy="896" r="8.8"/>
<circle cx="1008.2" cy="902.1" r="8.8"/>
<circle cx="1046.1" cy="910.4" r="8.8"/>
<circle cx="1027.6" cy="922.7" r="8.8"/>
<circle cx="1019.4" cy="928.9" r="8.8"/>
<circle cx="1144.2" cy="967.2" r="8.8"/>
<circle cx="1210.2" cy="960.7" r="8.8"/>
<circle cx="1208.1" cy="994.9" r="8.8"/>
<circle cx="934.1" cy="956.5" r="8.8"/>
<circle cx="967" cy="955.7" r="8.8"/>
<circle cx="942.3" cy="996.9" r="8.8"/>
<circle cx="932.8" cy="1021.6" r="8.8"/>
<circle cx="869" cy="992.8" r="8.8"/>
<circle cx="881.3" cy="990.7" r="8.8"/>
<circle cx="864" cy="1013.4" r="8.8"/>
<circle cx="869" cy="1021.6" r="8.8"/>
<circle cx="855.8" cy="1046.4" r="8.8"/>
<circle cx="829" cy="1034" r="8.8"/>
<circle cx="808" cy="1025.8" r="8.8"/>
<circle cx="899.9" cy="966" r="8.8"/>
<circle cx="887.5" cy="955.7" r="8.8"/>
<circle cx="959.6" cy="928.9" r="8.8"/>
<circle cx="957.6" cy="910.4" r="8.8"/>
<circle cx="960.4" cy="898" r="8.8"/>
<circle cx="947.2" cy="881.5" r="8.8"/>
<circle cx="969.9" cy="856.8" r="8.8"/>
<circle cx="947.2" cy="832.1" r="8.8"/>
<circle cx="963.7" cy="803.2" r="8.8"/>
<circle cx="936.9" cy="801.2" r="8.8"/>
<circle cx="926.6" cy="803.2" r="8.8"/>
<circle cx="984.3" cy="898" r="8.8"/>
<circle cx="974" cy="887.7" r="8.8"/>
<circle cx="982.3" cy="884.8" r="8.8"/>
<circle cx="202" cy="797.5" r="8.8"/>
<circle cx="181.8" cy="816.2" r="8.8"/>
<circle cx="223.7" cy="807.6" r="8.8"/>
<circle cx="216.4" cy="830.7" r="8.8"/>
<circle cx="191.9" cy="832.1" r="8.8"/>
<circle cx="200.6" cy="835" r="8.8"/>
<circle cx="226.5" cy="836.4" r="8.8"/>
<circle cx="235.2" cy="839.3" r="8.8"/>
<circle cx="176.9" cy="842.2" r="8.8"/>
<circle cx="173.2" cy="858.1" r="8.8"/>
<circle cx="196.2" cy="856.6" r="8.8"/>
<circle cx="203.5" cy="862.4" r="8.8"/>
<circle cx="222.2" cy="865.3" r="8.8"/>
<circle cx="226.5" cy="876.8" r="8.8"/>
<circle cx="248.2" cy="858.1" r="8.8"/>
<circle cx="255.4" cy="859.5" r="8.8"/>
<circle cx="269.8" cy="855.2" r="8.8"/>
<circle cx="275.6" cy="862.4" r="8.8"/>
<circle cx="284.2" cy="869.6" r="8.8"/>
<circle cx="292.9" cy="868.2" r="8.8"/>
<circle cx="297.2" cy="859.5" r="8.8"/>
<circle cx="305.9" cy="855.2" r="8.8"/>
<circle cx="307.3" cy="846.5" r="8.8"/>
<circle cx="301.5" cy="843.7" r="8.8"/>
<circle cx="275.6" cy="846.5" r="8.8"/>
<circle cx="264" cy="840.8" r="8.8"/>
<circle cx="249.6" cy="846.5" r="8.8"/>
<circle cx="242.4" cy="843.7" r="8.8"/>
<circle cx="258.3" cy="837.9" r="8.8"/>
<circle cx="278.5" cy="836.4" r="8.8"/>
<circle cx="290" cy="839.3" r="8.8"/>
<circle cx="301.5" cy="797.5" r="8.8"/>
<circle cx="324.6" cy="791.7" r="8.8"/>
<circle cx="311.6" cy="801.8" r="8.8"/>
<circle cx="318.8" cy="803.3" r="8.8"/>
<circle cx="330.4" cy="809" r="8.8"/>
<circle cx="347.7" cy="806.2" r="8.8"/>
<circle cx="362.1" cy="813.4" r="8.8"/>
<circle cx="353.5" cy="826.3" r="8.8"/>
<circle cx="341.9" cy="820.6" r="8.8"/>
<circle cx="330.4" cy="843.7" r="8.8"/>
<circle cx="318.8" cy="852.3" r="8.8"/>
<circle cx="327.5" cy="859.5" r="8.8"/>
<circle cx="337.6" cy="861" r="8.8"/>
<circle cx="313.1" cy="875.4" r="8.8"/>
<circle cx="301.5" cy="884" r="8.8"/>
<circle cx="290" cy="891.2" r="8.8"/>
<circle cx="281.3" cy="895.6" r="8.8"/>
<circle cx="295.8" cy="901.3" r="8.8"/>
<circle cx="303" cy="907.1" r="8.8"/>
<circle cx="301.5" cy="924.4" r="8.8"/>
<circle cx="305.9" cy="930.2" r="8.8"/>
<circle cx="313.1" cy="941.7" r="8.8"/>
<circle cx="324.6" cy="944.6" r="8.8"/>
<circle cx="213.6" cy="910" r="8.8"/>
<circle cx="220.8" cy="921.5" r="8.8"/>
<circle cx="216.4" cy="934.5" r="8.8"/>
<circle cx="196.2" cy="927.3" r="8.8"/>
<circle cx="252.5" cy="933.1" r="8.8"/>
<circle cx="346.2" cy="917.2" r="8.8"/>
<circle cx="353.5" cy="895.6" r="8.8"/>
<circle cx="344.8" cy="889.8" r="8.8"/>
<circle cx="362.1" cy="904.2" r="8.8"/>
<circle cx="367.9" cy="886.9" r="8.8"/>
<circle cx="376.5" cy="895.6" r="8.8"/>
<circle cx="379.4" cy="881.2" r="8.8"/>
<circle cx="388.1" cy="892.7" r="8.8"/>
<circle cx="373.7" cy="921.5" r="8.8"/>
<circle cx="382.3" cy="924.4" r="8.8"/>
<circle cx="393.8" cy="918.7" r="8.8"/>
<circle cx="347.7" cy="869.6" r="8.8"/>
<circle cx="362.1" cy="869.6" r="8.8"/>
<circle cx="373.7" cy="855.2" r="8.8"/>
<circle cx="370.8" cy="843.7" r="8.8"/>
<circle cx="353.5" cy="846.5" r="8.8"/>
<circle cx="339" cy="852.3" r="8.8"/>
<circle cx="236.6" cy="982.1" r="8.8"/>
<circle cx="285.7" cy="986.4" r="8.8"/>
<circle cx="343.4" cy="989.3" r="8.8"/>
<circle cx="360.7" cy="1002.3" r="8.8"/>
<circle cx="391.5" cy="967.7" r="8.8"/>
<circle cx="393" cy="987.9" r="8.8"/>
<circle cx="411.2" cy="940.3" r="8.8"/>
<circle cx="444.3" cy="956.2" r="8.8"/>
<circle cx="451.5" cy="943.2" r="8.8"/>
<circle cx="468.8" cy="974.9" r="8.8"/>
<circle cx="473.2" cy="1006.6" r="8.8"/>
<circle cx="477.5" cy="999.4" r="8.8"/>
<circle cx="497.7" cy="1000.9" r="8.8"/>
<circle cx="520.8" cy="1034" r="8.8"/>
<circle cx="525.1" cy="990.8" r="8.8"/>
<circle cx="480.4" cy="966.2" r="8.8"/>
<circle cx="490.5" cy="969.1" r="8.8"/>
<circle cx="835.3" cy="322.6" r="8.8"/>
<circle cx="788" cy="578" r="8.8"/>
<circle cx="807" cy="575" r="8.8"/>
<circle cx="829" cy="576" r="8.8"/>
<circle cx="451.4" cy="789.1" r="8.8"/>
<circle cx="454.8" cy="793.6" r="8.8"/>
<circle cx="467.2" cy="791" r="8.8"/>
<circle cx="474.6" cy="792.6" r="8.8"/>
<circle cx="479.3" cy="792.4" r="8.8"/>
<circle cx="487.7" cy="789.6" r="8.8"/>
<circle cx="497.6" cy="789.6" r="8.8"/>
<circle cx="504" cy="786.8" r="8.8"/>
<circle cx="512.3" cy="788.1" r="8.8"/>
<circle cx="513.2" cy="791.6" r="8.8"/>
<circle cx="479.1" cy="779.6" r="8.8"/>
<circle cx="488.6" cy="780.7" r="8.8"/>
<circle cx="523.4" cy="788.2" r="8.8"/>
<circle cx="530.6" cy="792.9" r="8.8"/>
<circle cx="534.8" cy="792.3" r="8.8"/>
<circle cx="546.4" cy="789.9" r="8.8"/>
<circle cx="550.9" cy="794.4" r="8.8"/>
<circle cx="524.8" cy="775.7" r="8.8"/>
<circle cx="555.3" cy="794.3" r="8.8"/>
<circle cx="566" cy="794.9" r="8.8"/>
<circle cx="567.7" cy="795.4" r="8.8"/>
<circle cx="574.1" cy="793.4" r="8.8"/>
<circle cx="581.8" cy="799.2" r="8.8"/>
<circle cx="588.2" cy="801.6" r="8.8"/>
<circle cx="593.2" cy="799.1" r="8.8"/>
<circle cx="573.2" cy="786.8" r="8.8"/>
<circle cx="589" cy="787.2" r="8.8"/>
<circle cx="603.2" cy="800.9" r="8.8"/>
<circle cx="611.2" cy="803.8" r="8.8"/>
<circle cx="618.9" cy="801.3" r="8.8"/>
<circle cx="624" cy="799.6" r="8.8"/>
<circle cx="628.6" cy="804" r="8.8"/>
<circle cx="636.1" cy="806.6" r="8.8"/>
<circle cx="601.6" cy="793.8" r="8.8"/>
<circle cx="635.3" cy="796.5" r="8.8"/>
<circle cx="643.5" cy="806.6" r="8.8"/>
<circle cx="646.7" cy="806.1" r="8.8"/>
<circle cx="659.2" cy="807.7" r="8.8"/>
<circle cx="665.3" cy="806.1" r="8.8"/>
<circle cx="646.3" cy="791.6" r="8.8"/>
<circle cx="664.9" cy="803.9" r="8.8"/>
<circle cx="668.6" cy="808.8" r="8.8"/>
<circle cx="669.7" cy="822.4" r="8.8"/>
<circle cx="674.8" cy="827.4" r="8.8"/>
<circle cx="673.3" cy="837.1" r="8.8"/>
<circle cx="676.2" cy="843" r="8.8"/>
<circle cx="679.9" cy="847.2" r="8.8"/>
<circle cx="681" cy="859.6" r="8.8"/>
<circle cx="681" cy="862.1" r="8.8"/>
<circle cx="682.1" cy="871.2" r="8.8"/>
<circle cx="684.2" cy="878.3" r="8.8"/>
<circle cx="683.2" cy="886.1" r="8.8"/>
<circle cx="687.3" cy="892.9" r="8.8"/>
<circle cx="684.3" cy="901.7" r="8.8"/>
<circle cx="686.9" cy="903" r="8.8"/>
<circle cx="691.3" cy="917.3" r="8.8"/>
<circle cx="687.6" cy="918.8" r="8.8"/>
<circle cx="687.2" cy="927.7" r="8.8"/>
<circle cx="689.8" cy="936" r="8.8"/>
<circle cx="688.8" cy="939.6" r="8.8"/>
<circle cx="690" cy="945.3" r="8.8"/>
<circle cx="692.2" cy="957.3" r="8.8"/>
<circle cx="694.6" cy="958" r="8.8"/>
<circle cx="694.4" cy="968.6" r="8.8"/>
<circle cx="694.7" cy="976.5" r="8.8"/>
<circle cx="691.2" cy="979.8" r="8.8"/>
<circle cx="693.2" cy="990.9" r="8.8"/>
<circle cx="693.8" cy="997.8" r="8.8"/>
<circle cx="692.8" cy="1000.6" r="8.8"/>
<circle cx="694.9" cy="1008.3" r="8.8"/>
<circle cx="703.8" cy="1019.2" r="8.8"/>
<circle cx="709.8" cy="1005.9" r="8.8"/>
<circle cx="714.4" cy="1002.6" r="8.8"/>
<circle cx="709.5" cy="997.4" r="8.8"/>
<circle cx="714" cy="992.2" r="8.8"/>
<circle cx="711.8" cy="985" r="8.8"/>
<circle cx="715.4" cy="972.1" r="8.8"/>
<circle cx="713.2" cy="967.4" r="8.8"/>
<circle cx="714.3" cy="961.2" r="8.8"/>
<circle cx="717.3" cy="953.4" r="8.8"/>
<circle cx="715.7" cy="948.5" r="8.8"/>
<circle cx="720.6" cy="938.3" r="8.8"/>
<circle cx="715.4" cy="931.5" r="8.8"/>
<circle cx="716.5" cy="929.6" r="8.8"/>
<circle cx="719.3" cy="918.1" r="8.8"/>
<circle cx="719.6" cy="911.7" r="8.8"/>
<circle cx="718.2" cy="908.8" r="8.8"/>
<circle cx="720.5" cy="898.4" r="8.8"/>
<circle cx="725.5" cy="889" r="8.8"/>
<circle cx="725.9" cy="881.1" r="8.8"/>
<circle cx="722.8" cy="876.4" r="8.8"/>
<circle cx="724.7" cy="867.8" r="8.8"/>
<circle cx="725.4" cy="864.4" r="8.8"/>
<circle cx="726.5" cy="857.4" r="8.8"/>
<circle cx="727.2" cy="852.2" r="8.8"/>
<circle cx="730.2" cy="846.8" r="8.8"/>
<circle cx="728.4" cy="836.8" r="8.8"/>
<circle cx="734.5" cy="828.2" r="8.8"/>
<circle cx="732.4" cy="816.1" r="8.8"/>
<circle cx="733.2" cy="815.3" r="8.8"/>
<circle cx="738.5" cy="809.1" r="8.8"/>
<circle cx="740.5" cy="805" r="8.8"/>
<circle cx="747.1" cy="803.2" r="8.8"/>
<circle cx="754.5" cy="799.3" r="8.8"/>
<circle cx="757.8" cy="799.1" r="8.8"/>
<circle cx="732.9" cy="796.4" r="8.8"/>
<circle cx="765.1" cy="793.1" r="8.8"/>
<circle cx="769.8" cy="794.1" r="8.8"/>
<circle cx="776.9" cy="792.2" r="8.8"/>
<circle cx="782.8" cy="794.1" r="8.8"/>
<circle cx="792.8" cy="793.4" r="8.8"/>
<circle cx="798.3" cy="793.6" r="8.8"/>
<circle cx="768.3" cy="786.7" r="8.8"/>
<circle cx="782.1" cy="785.1" r="8.8"/>
<circle cx="803.4" cy="797.5" r="8.8"/>
<circle cx="808.5" cy="794.5" r="8.8"/>
<circle cx="819.2" cy="796" r="8.8"/>
<circle cx="824.9" cy="793.9" r="8.8"/>
<circle cx="828.7" cy="794.6" r="8.8"/>
<circle cx="836.4" cy="798.7" r="8.8"/>
<circle cx="845.9" cy="797.4" r="8.8"/>
<circle cx="810.2" cy="781.8" r="8.8"/>
<circle cx="821.6" cy="786.8" r="8.8"/>
<circle cx="828.6" cy="785.8" r="8.8"/>
<circle cx="841" cy="782.6" r="8.8"/>
<circle cx="847" cy="797.8" r="8.8"/>
<circle cx="849.7" cy="802.4" r="8.8"/>
<circle cx="848.9" cy="809" r="8.8"/>
<circle cx="852.2" cy="787.7" r="8.8"/>
<circle cx="860.8" cy="799.4" r="8.8"/>
<circle cx="850.2" cy="815.3" r="8.8"/>
<circle cx="856.9" cy="822.2" r="8.8"/>
<circle cx="854.4" cy="825.8" r="8.8"/>
<circle cx="860.6" cy="833.7" r="8.8"/>
<circle cx="861.5" cy="844.8" r="8.8"/>
<circle cx="862.1" cy="813.3" r="8.8"/>
<circle cx="863.4" cy="828.1" r="8.8"/>
<circle cx="870.7" cy="832.2" r="8.8"/>
<circle cx="858.7" cy="848.4" r="8.8"/>
<circle cx="861.2" cy="857.6" r="8.8"/>
<circle cx="860" cy="860.3" r="8.8"/>
<circle cx="858.8" cy="871" r="8.8"/>
<circle cx="852.6" cy="878.9" r="8.8"/>
<circle cx="868.6" cy="852.1" r="8.8"/>
<circle cx="863.1" cy="878.7" r="8.8"/>
<circle cx="856.6" cy="883.9" r="8.8"/>
<circle cx="851.5" cy="892.4" r="8.8"/>
<circle cx="853" cy="901.6" r="8.8"/>
<circle cx="854.8" cy="908.8" r="8.8"/>
<circle cx="855.4" cy="914.1" r="8.8"/>
<circle cx="862.5" cy="908.2" r="8.8"/>
<circle cx="851" cy="921" r="8.8"/>
<circle cx="852" cy="930.1" r="8.8"/>
<circle cx="849.1" cy="935.6" r="8.8"/>
<circle cx="847.9" cy="940.9" r="8.8"/>
<circle cx="846.3" cy="946" r="8.8"/>
<circle cx="863.3" cy="932" r="8.8"/>
<circle cx="861.4" cy="953.9" r="8.8"/>
<circle cx="848.2" cy="955.8" r="8.8"/>
<circle cx="844.2" cy="964.1" r="8.8"/>
<circle cx="841.5" cy="968.4" r="8.8"/>
<circle cx="849.8" cy="968" r="8.8"/>
<circle cx="840.4" cy="971.4" r="8.8"/>
<circle cx="836" cy="979.2" r="8.8"/>
<circle cx="835.2" cy="985.7" r="8.8"/>
<circle cx="840.5" cy="987.5" r="8.8"/>
<circle cx="827.1" cy="990.9" r="8.8"/>
<circle cx="824.9" cy="998.4" r="8.8"/>
<circle cx="821.1" cy="998.7" r="8.8"/>
<circle cx="839" cy="996.1" r="8.8"/>
<circle cx="819.5" cy="1003.1" r="8.8"/>
<circle cx="815.2" cy="1011.9" r="8.8"/>
<circle cx="809.1" cy="1023.3" r="8.8"/>
<circle cx="832.3" cy="1016" r="8.8"/>
<circle cx="820.1" cy="1031.4" r="8.8"/>
<circle cx="803.2" cy="1025.1" r="8.8"/>
<circle cx="800.4" cy="1030.9" r="8.8"/>
<circle cx="796.2" cy="1033.5" r="8.8"/>
<circle cx="790.5" cy="1041.5" r="8.8"/>
<circle cx="811.2" cy="1028.8" r="8.8"/>
<circle cx="797.7" cy="1047.3" r="8.8"/>
<circle cx="785.9" cy="1040.1" r="8.8"/>
<circle cx="778.9" cy="1043.8" r="8.8"/>
<circle cx="774.3" cy="1048.8" r="8.8"/>
<circle cx="769.9" cy="1053.9" r="8.8"/>
<circle cx="787.8" cy="1052.9" r="8.8"/>
<circle cx="777.8" cy="1060" r="8.8"/>
<circle cx="756.3" cy="1054.9" r="8.8"/>
<circle cx="752.1" cy="1059.6" r="8.8"/>
<circle cx="743.8" cy="1064.3" r="8.8"/>
<circle cx="737" cy="1064.8" r="8.8"/>
<circle cx="730.9" cy="1070.6" r="8.8"/>
<circle cx="754.8" cy="1066.4" r="8.8"/>
<circle cx="728.1" cy="1071.2" r="8.8"/>
<circle cx="695" cy="1071.7" r="8.8"/>
<circle cx="684" cy="1068.2" r="8.8"/>
<circle cx="675" cy="1061.4" r="8.8"/>
<circle cx="667.5" cy="1058.3" r="8.8"/>
<circle cx="660.5" cy="1053.7" r="8.8"/>
<circle cx="652.1" cy="1052.1" r="8.8"/>
<circle cx="648.1" cy="1051.3" r="8.8"/>
<circle cx="643.8" cy="1043.8" r="8.8"/>
<circle cx="638.1" cy="1043.2" r="8.8"/>
<circle cx="629.4" cy="1040.4" r="8.8"/>
<circle cx="628.1" cy="1053.4" r="8.8"/>
<circle cx="624" cy="1037.7" r="8.8"/>
<circle cx="618.8" cy="1028.7" r="8.8"/>
<circle cx="615.6" cy="1027.5" r="8.8"/>
<circle cx="612.6" cy="1024.1" r="8.8"/>
<circle cx="602.8" cy="1021.5" r="8.8"/>
<circle cx="613.7" cy="1042.3" r="8.8"/>
<circle cx="605.4" cy="1034.6" r="8.8"/>
<circle cx="600" cy="1015.1" r="8.8"/>
<circle cx="592.7" cy="1016.2" r="8.8"/>
<circle cx="587.7" cy="1005.3" r="8.8"/>
<circle cx="582.2" cy="1007.5" r="8.8"/>
<circle cx="579.6" cy="1000.1" r="8.8"/>
<circle cx="572.2" cy="994.3" r="8.8"/>
<circle cx="567.3" cy="984.5" r="8.8"/>
<circle cx="570.7" cy="1003.6" r="8.8"/>
<circle cx="565.2" cy="996.6" r="8.8"/>
<circle cx="567.1" cy="981.7" r="8.8"/>
<circle cx="557.5" cy="974.8" r="8.8"/>
<circle cx="554.7" cy="971" r="8.8"/>
<circle cx="547.9" cy="982" r="8.8"/>
<circle cx="541.1" cy="960.8" r="8.8"/>
<circle cx="537.5" cy="964.1" r="8.8"/>
<circle cx="526.3" cy="957.1" r="8.8"/>
<circle cx="519.3" cy="956.5" r="8.8"/>
<circle cx="527.7" cy="973.6" r="8.8"/>
<circle cx="520.5" cy="965" r="8.8"/>
<circle cx="517.4" cy="951.5" r="8.8"/>
<circle cx="510.5" cy="949.1" r="8.8"/>
<circle cx="506.4" cy="942.5" r="8.8"/>
<circle cx="498.2" cy="940.6" r="8.8"/>
<circle cx="497.2" cy="932.6" r="8.8"/>
<circle cx="513.1" cy="958.6" r="8.8"/>
<circle cx="493.2" cy="928.3" r="8.8"/>
<circle cx="487.2" cy="928.6" r="8.8"/>
<circle cx="480.2" cy="920.5" r="8.8"/>
<circle cx="478.9" cy="916.4" r="8.8"/>
<circle cx="472.3" cy="912.2" r="8.8"/>
<circle cx="466" cy="907.8" r="8.8"/>
<circle cx="464.4" cy="901.7" r="8.8"/>
<circle cx="455.6" cy="895.2" r="8.8"/>
<circle cx="463.2" cy="922.9" r="8.8"/>
<circle cx="456.9" cy="888.6" r="8.8"/>
<circle cx="451.5" cy="885.4" r="8.8"/>
<circle cx="451.7" cy="879.5" r="8.8"/>
<circle cx="447.8" cy="866.7" r="8.8"/>
<circle cx="444.7" cy="862.6" r="8.8"/>
<circle cx="446.7" cy="886.5" r="8.8"/>
<circle cx="442.4" cy="856" r="8.8"/>
<circle cx="444.4" cy="849.4" r="8.8"/>
<circle cx="447.4" cy="843.1" r="8.8"/>
<circle cx="446.3" cy="839" r="8.8"/>
<circle cx="446.4" cy="828.9" r="8.8"/>
<circle cx="441.4" cy="823.2" r="8.8"/>
<circle cx="435.7" cy="838.8" r="8.8"/>
<circle cx="429.4" cy="832.4" r="8.8"/>
<circle cx="447" cy="818.4" r="8.8"/>
<circle cx="446.6" cy="813.1" r="8.8"/>
<circle cx="445.4" cy="806.7" r="8.8"/>
<circle cx="448" cy="794.6" r="8.8"/>
<circle cx="449.2" cy="788.9" r="8.8"/>
<circle cx="437.4" cy="792.4" r="8.8"/>
</g>
<g class="d">
<circle cx="436.9" cy="786.2" r="8.8"/>
<circle cx="223.8" cy="688.7" r="8.8"/>
<circle cx="317" cy="668.5" r="8.8"/>
<circle cx="298.8" cy="700.2" r="8.8"/>
<circle cx="354.1" cy="694" r="8.8"/>
<circle cx="407.2" cy="711.8" r="8.8"/>
<circle cx="444.7" cy="710.5" r="8.8"/>
<circle cx="470.3" cy="715.9" r="8.8"/>
<circle cx="458.7" cy="647.5" r="8.8"/>
<circle cx="490" cy="681.7" r="8.8"/>
<circle cx="503.2" cy="610.4" r="8.8"/>
<circle cx="513.5" cy="604.6" r="8.8"/>
<circle cx="527.1" cy="600.1" r="8.8"/>
<circle cx="528" cy="632.2" r="8.8"/>
<circle cx="390.7" cy="738.5" r="8.8"/>
<circle cx="178.9" cy="767" r="8.8"/>
<circle cx="200.8" cy="770.3" r="8.8"/>
<circle cx="236.6" cy="768.2" r="8.8"/>
<circle cx="245.7" cy="770.3" r="8.8"/>
<circle cx="328.1" cy="769.4" r="8.8"/>
<circle cx="346.6" cy="771.1" r="8.8"/>
<circle cx="383.7" cy="774.4" r="8.8"/>
<circle cx="379.6" cy="784.7" r="8.8"/>
<circle cx="408.5" cy="757.9" r="8.8"/>
<circle cx="413.4" cy="753" r="8.8"/>
<circle cx="429.9" cy="769" r="8.8"/>
<circle cx="470.3" cy="761.2" r="8.8"/>
<circle cx="482.6" cy="764.1" r="8.8"/>
<circle cx="484.7" cy="774.4" r="8.8"/>
<circle cx="492.9" cy="778.5" r="8.8"/>
<circle cx="505.3" cy="749.7" r="8.8"/>
<circle cx="515.6" cy="741.4" r="8.8"/>
<circle cx="521.8" cy="733.2" r="8.8"/>
<circle cx="528" cy="724.1" r="8.8"/>
<circle cx="540.3" cy="722.9" r="8.8"/>
<circle cx="546.5" cy="706.4" r="8.8"/>
<circle cx="536.2" cy="761.2" r="8.8"/>
<circle cx="544.4" cy="760" r="8.8"/>
<circle cx="513.5" cy="768.2" r="8.8"/>
<circle cx="517.7" cy="780.6" r="8.8"/>
<circle cx="507.4" cy="784.7" r="8.8"/>
<circle cx="455.8" cy="784.7" r="8.8"/>
<circle cx="342" cy="732" r="8.8"/>
</g>
<g class="u">
<circle cx="865.8" cy="722.3" r="8.8"/>
<circle cx="914" cy="781.4" r="8.8"/>
<circle cx="857.6" cy="725.4" r="8.8"/>
<circle cx="881.7" cy="764.3" r="8.8"/>
<circle cx="867.4" cy="783" r="8.8"/>
<circle cx="907.2" cy="733" r="8.8"/>
<circle cx="926.5" cy="778.8" r="8.8"/>
<circle cx="887.2" cy="763.9" r="8.8"/>
<circle cx="874.6" cy="731.5" r="8.8"/>
<circle cx="906" cy="730.8" r="8.8"/>
<circle cx="887.6" cy="756.4" r="8.8"/>
<circle cx="923.6" cy="756.5" r="8.8"/>
<circle cx="887.2" cy="716.9" r="8.8"/>
<circle cx="881.2" cy="737" r="8.8"/>
<circle cx="899.2" cy="740.6" r="8.8"/>
<circle cx="898.9" cy="779.7" r="8.8"/>
<circle cx="888.9" cy="718.3" r="8.8"/>
<circle cx="889.1" cy="713.7" r="8.8"/>
<circle cx="881.8" cy="766.8" r="8.8"/>
<circle cx="871.8" cy="781.4" r="8.8"/>
<circle cx="894.6" cy="773" r="8.8"/>
<circle cx="878.6" cy="785.2" r="8.8"/>
<circle cx="895.5" cy="764.9" r="8.8"/>
<circle cx="861.3" cy="782.7" r="8.8"/>
<circle cx="894" cy="760.8" r="8.8"/>
<circle cx="886.1" cy="778.3" r="8.8"/>
<circle cx="890" cy="762.3" r="8.8"/>
<circle cx="892.7" cy="761.2" r="8.8"/>
<circle cx="894.7" cy="776.1" r="8.8"/>
<circle cx="874" cy="754.8" r="8.8"/>
<circle cx="895.2" cy="771.2" r="8.8"/>
<circle cx="1101.8" cy="494.2" r="8.8"/>
<circle cx="907.3" cy="536.2" r="8.8"/>
<circle cx="916.3" cy="560.1" r="8.8"/>
<circle cx="866.9" cy="563" r="8.8"/>
<circle cx="892.9" cy="574.9" r="8.8"/>
<circle cx="965.8" cy="597.2" r="8.8"/>
<circle cx="960.4" cy="631" r="8.8"/>
<circle cx="868.1" cy="632.6" r="8.8"/>
<circle cx="881.3" cy="644.6" r="8.8"/>
<circle cx="903.2" cy="667.2" r="8.8"/>
<circle cx="860.7" cy="672.2" r="8.8"/>
<circle cx="899" cy="687.9" r="8.8"/>
<circle cx="1136.8" cy="682.1" r="8.8"/>
<circle cx="1008.2" cy="667.2" r="8.8"/>
<circle cx="891.6" cy="700.2" r="8.8"/>
<circle cx="885.4" cy="716.7" r="8.8"/>
<circle cx="889.6" cy="724.9" r="8.8"/>
<circle cx="911" cy="724.9" r="8.8"/>
<circle cx="922.5" cy="733.2" r="8.8"/>
<circle cx="955.5" cy="727" r="8.8"/>
<circle cx="1079.9" cy="729.1" r="8.8"/>
<circle cx="1115" cy="733.2" r="8.8"/>
<circle cx="1098.9" cy="762.9" r="8.8"/>
<circle cx="1063.9" cy="775.2" r="8.8"/>
<circle cx="975.3" cy="786.8" r="8.8"/>
<circle cx="932.8" cy="755.8" r="8.8"/>
<circle cx="932.8" cy="768.2" r="8.8"/>
<circle cx="899.9" cy="745.5" r="8.8"/>
<circle cx="908.1" cy="749.7" r="8.8"/>
<circle cx="854.5" cy="749.7" r="8.8"/>
<circle cx="854.5" cy="704.3" r="8.8"/>
<circle cx="858.7" cy="724.9" r="8.8"/>
</g>
</g>
<g stroke="#bdbdbd" stroke-width="5.5" stroke-dasharray="22.2 22.2" fill="none">
<path d="M555.5 1120V56"/>
<path d="M853.3 1120V56"/>
<path d="M121 787.9H1287.5"/>
</g>
<path d="M211.3 737.1L236.1 765.3" stroke="#8c8c8c" stroke-width="3.6"/>
<path d="M336.1 741.3L347.6 767.9" stroke="#8c8c8c" stroke-width="3.6"/>
<path d="M272.7 802L247.9 771.8" stroke="#8c8c8c" stroke-width="3.6"/>
<path d="M385.7 788.7L385.7 822" stroke="#8c8c8c" stroke-width="3.6"/>
<path d="M873.9 593.9L870.2 634.3" stroke="#8c8c8c" stroke-width="3.6"/>
<path d="M917.2 664L915.1 722.9" stroke="#8c8c8c" stroke-width="3.6"/>
<path d="M873.1 700.2L885.4 743.5" stroke="#8c8c8c" stroke-width="3.6"/>
<path d="M943.1 741.4L887.5 772.3" stroke="#8c8c8c" stroke-width="3.6"/>
<path d="M869 782.6L871 813.5" stroke="#8c8c8c" stroke-width="3.6"/>
<path d="M977.2 788.8L977.2 818.9" stroke="#8c8c8c" stroke-width="3.6"/>
<rect x="144" y="702.6" width="96.4" height="35.3" rx="4.5" fill="#fff" fill-opacity=".72" stroke="#63b842" stroke-width="1.3"/>
<text x="192.2" y="728.9" font-size="22.8" fill="#63b842" text-anchor="middle">P07934</text>
<rect x="284.4" y="706" width="106.5" height="35.3" rx="4.5" fill="#fff" fill-opacity=".72" stroke="#63b842" stroke-width="1.3"/>
<text x="337.6" y="732.2" font-size="22.8" fill="#63b842" text-anchor="middle">Q7TSH2</text>
<rect x="228.3" y="802.3" width="114.1" height="35.3" rx="4.5" fill="#fff" fill-opacity=".72" stroke="#63b842" stroke-width="1.3"/>
<text x="285.3" y="828.5" font-size="22.8" fill="#63b842" text-anchor="middle">Q9WUB3</text>
<rect x="386.7" y="816.4" width="96.4" height="35.3" rx="4.5" fill="#fff" fill-opacity=".72" stroke="#63b842" stroke-width="1.3"/>
<text x="434.9" y="842.6" font-size="22.8" fill="#63b842" text-anchor="middle">P05064</text>
<rect x="770.1" y="571.6" width="104" height="35.3" rx="4.5" fill="#fff" fill-opacity=".72" stroke="#dc3e3e" stroke-width="1.3"/>
<text x="822.1" y="597.9" font-size="22.8" fill="#dc3e3e" text-anchor="middle">Q6Q899</text>
<rect x="917.6" y="643.3" width="98.9" height="35.3" rx="4.5" fill="#fff" fill-opacity=".72" stroke="#dc3e3e" stroke-width="1.3"/>
<text x="967.1" y="669.5" font-size="22.8" fill="#dc3e3e" text-anchor="middle">Q60803</text>
<rect x="768.8" y="680.4" width="105.2" height="35.3" rx="4.5" fill="#fff" fill-opacity=".72" stroke="#dc3e3e" stroke-width="1.3"/>
<text x="821.4" y="706.6" font-size="22.8" fill="#dc3e3e" text-anchor="middle">Q8VC30</text>
<rect x="944" y="723.7" width="96.4" height="35.3" rx="4.5" fill="#fff" fill-opacity=".72" stroke="#dc3e3e" stroke-width="1.3"/>
<text x="992.2" y="750" font-size="22.8" fill="#dc3e3e" text-anchor="middle">P70265</text>
<rect x="769.2" y="811.5" width="104" height="35.3" rx="4.5" fill="#fff" fill-opacity=".72" stroke="#dc3e3e" stroke-width="1.3"/>
<text x="821.2" y="837.8" font-size="22.8" fill="#dc3e3e" text-anchor="middle">Q9DBJ1</text>
<rect x="978.3" y="817.4" width="96.4" height="35.3" rx="4.5" fill="#fff" fill-opacity=".72" stroke="#dc3e3e" stroke-width="1.3"/>
<text x="1026.5" y="843.6" font-size="22.8" fill="#dc3e3e" text-anchor="middle">P27512</text>
<g stroke="#1a1a1a" stroke-width="2.6" fill="none">
<path d="M121 56V1120H1287.5"/>
</g>
<g stroke="#333" stroke-width="2.2">
<path d="M114 1072H121"/>
<path d="M114 853.6H121"/>
<path d="M114 635.2H121"/>
<path d="M114 416.8H121"/>
<path d="M114 198.4H121"/>
<path d="M138.2 1120V1127"/>
<path d="M421.3 1120V1127"/>
<path d="M704.4 1120V1127"/>
<path d="M987.5 1120V1127"/>
<path d="M1270.6 1120V1127"/>
</g>
<g font-size="23" fill="#4d4d4d">
<text x="109.5" y="1080.3" text-anchor="end">0</text>
<text x="109.5" y="861.9" text-anchor="end">1</text>
<text x="109.5" y="643.5" text-anchor="end">2</text>
<text x="109.5" y="425.1" text-anchor="end">3</text>
<text x="109.5" y="206.7" text-anchor="end">4</text>
<text x="138.2" y="1150" text-anchor="middle">-1.0</text>
<text x="421.3" y="1150" text-anchor="middle">-0.5</text>
<text x="704.4" y="1150" text-anchor="middle">0.0</text>
<text x="987.5" y="1150" text-anchor="middle">0.5</text>
<text x="1270.6" y="1150" text-anchor="middle">1.0</text>
</g>
<text x="704.2" y="1207.6" font-size="39.3" fill="#1a1a1a" text-anchor="middle">log2(P/V)</text>
<g transform="translate(54 728) rotate(-90)" fill="#1a1a1a">
<rect x="2" y="-14.4" width="24" height="3" />
<text x="35.1" y="0" font-size="39">log</text>
<text x="88.2" y="6" font-size="27">10</text>
<text x="120.5" y="-4" font-size="47">(</text>
<text x="136.5" y="0" font-size="39">PValue</text>
<text x="265.5" y="-4" font-size="47">)</text>
</g>
<g>
<rect x="1355" y="520.1" width="43.7" height="58.8" fill="#fff" stroke="#1a1a1a" stroke-width="2.1"/>
<circle cx="1376.8" cy="549.5" r="9" fill="#e62323" fill-opacity=".6"/>
<text x="1413.5" y="557.5" font-size="23.5" fill="#1a1a1a">UP</text>
<rect x="1355" y="578.9" width="43.7" height="58.8" fill="#fff" stroke="#1a1a1a" stroke-width="2.1"/>
<circle cx="1376.8" cy="608.3" r="9" fill="#6cbe4c" fill-opacity=".8"/>
<text x="1413.5" y="616.3" font-size="23.5" fill="#1a1a1a">DOWN</text>
<rect x="1355" y="637.7" width="43.7" height="58.8" fill="#fff" stroke="#1a1a1a" stroke-width="2.1"/>
<circle cx="1376.8" cy="667.1" r="9" fill="#272727" fill-opacity=".57"/>
<text x="1413.5" y="675.1" font-size="23.5" fill="#1a1a1a">NOT</text>
</g>
<text x="688.7" y="1412.7" font-size="41.5" fill="#1a1a1a" text-anchor="middle">Volcano Plot</text>
<text x="158" y="1446.2" font-size="56" fill="#1a1a1a" style="font-family:'Liberation Serif',serif">B</text>
<g class="pts">
<path fill="#272727" d="M597 2080L620 2072L645 2080L655 2095L663 2128L676 2174L679 2219L681 2250L683 2265L685 2300L688 2340L690 2365L691 2382L693 2382L695 2365L698 2340L702 2300L703 2265L704 2242L706 2197L712 2160L730 2150L760 2148L780 2150L782 2247L800 2255L808 2265L810 2284L804 2306L799 2328L797 2350L788 2372L777 2394L760 2416L731 2438L711 2449L700 2456L689.5 2459L678 2456L667.5 2449L645.5 2438L619 2416L606 2394L601.5 2372L597 2328L595 2284L590 2260L592 2246L596 2200L596 2128Z"/>
<g class="n">
<circle cx="575" cy="2297.8" r="8.8"/>
<circle cx="581.7" cy="2354.6" r="8.8"/>
<circle cx="582" cy="2317.4" r="8.8"/>
<circle cx="571.8" cy="2339.8" r="8.8"/>
<circle cx="566.4" cy="2378.5" r="8.8"/>
<circle cx="565.9" cy="2356.1" r="8.8"/>
<circle cx="570.6" cy="2388.2" r="8.8"/>
<circle cx="563.1" cy="2259.5" r="8.8"/>
<circle cx="566.7" cy="2370.9" r="8.8"/>
<circle cx="564.4" cy="2327.2" r="8.8"/>
<circle cx="569.3" cy="2267.9" r="8.8"/>
<circle cx="585.2" cy="2388.8" r="8.8"/>
<circle cx="595.9" cy="2372.2" r="8.8"/>
<circle cx="570.8" cy="2270.9" r="8.8"/>
<circle cx="595" cy="2354.6" r="8.8"/>
<circle cx="574.4" cy="2408.3" r="8.8"/>
<circle cx="598.7" cy="2385.1" r="8.8"/>
<circle cx="594.3" cy="2358.3" r="8.8"/>
<circle cx="588.7" cy="2350.9" r="8.8"/>
<circle cx="565.8" cy="2264.1" r="8.8"/>
<circle cx="569.8" cy="2340.8" r="8.8"/>
<circle cx="576.8" cy="2261.9" r="8.8"/>
<circle cx="591.3" cy="2354.5" r="8.8"/>
<circle cx="596.8" cy="2343.7" r="8.8"/>
<circle cx="589.9" cy="2280.3" r="8.8"/>
<circle cx="584.1" cy="2405.2" r="8.8"/>
<circle cx="571.1" cy="2260.4" r="8.8"/>
<circle cx="575.2" cy="2380.2" r="8.8"/>
<circle cx="578.3" cy="2277.7" r="8.8"/>
<circle cx="574.9" cy="2369.4" r="8.8"/>
<circle cx="594.4" cy="2312.8" r="8.8"/>
<circle cx="579" cy="2341.1" r="8.8"/>
<circle cx="567.9" cy="2362.1" r="8.8"/>
<circle cx="578.1" cy="2399.4" r="8.8"/>
<circle cx="584.6" cy="2264.6" r="8.8"/>
<circle cx="583.9" cy="2365.5" r="8.8"/>
<circle cx="595.8" cy="2380.9" r="8.8"/>
<circle cx="583" cy="2314.1" r="8.8"/>
<circle cx="582.5" cy="2293.6" r="8.8"/>
<circle cx="580.7" cy="2398.2" r="8.8"/>
<circle cx="573.5" cy="2273.8" r="8.8"/>
<circle cx="581.9" cy="2304.3" r="8.8"/>
<circle cx="572.9" cy="2338.6" r="8.8"/>
<circle cx="585.8" cy="2347.1" r="8.8"/>
<circle cx="583.1" cy="2337.6" r="8.8"/>
<circle cx="572.3" cy="2274.1" r="8.8"/>
<circle cx="569.5" cy="2369.9" r="8.8"/>
<circle cx="568.2" cy="2345.1" r="8.8"/>
<circle cx="577.7" cy="2362.5" r="8.8"/>
<circle cx="576.4" cy="2289.8" r="8.8"/>
<circle cx="598.8" cy="2368.4" r="8.8"/>
<circle cx="595.7" cy="2336.3" r="8.8"/>
<circle cx="564.5" cy="2276.5" r="8.8"/>
<circle cx="588.2" cy="2357.5" r="8.8"/>
<circle cx="571.2" cy="2405.5" r="8.8"/>
<circle cx="569.1" cy="2399" r="8.8"/>
<circle cx="593.3" cy="2378.5" r="8.8"/>
<circle cx="574.7" cy="2330.9" r="8.8"/>
<circle cx="594.6" cy="2298.1" r="8.8"/>
<circle cx="573.5" cy="2286.4" r="8.8"/>
<circle cx="597.2" cy="2397.9" r="8.8"/>
<circle cx="598.2" cy="2355" r="8.8"/>
<circle cx="591.3" cy="2382.1" r="8.8"/>
<circle cx="573.2" cy="2406.2" r="8.8"/>
<circle cx="571.3" cy="2403.3" r="8.8"/>
<circle cx="595.4" cy="2268.4" r="8.8"/>
<circle cx="588.3" cy="2260.1" r="8.8"/>
<circle cx="544.3" cy="2388.7" r="8.8"/>
<circle cx="541.3" cy="2298.4" r="8.8"/>
<circle cx="537.1" cy="2355.4" r="8.8"/>
<circle cx="551.9" cy="2350.4" r="8.8"/>
<circle cx="550.2" cy="2351.8" r="8.8"/>
<circle cx="537.3" cy="2347.3" r="8.8"/>
<circle cx="550" cy="2335.6" r="8.8"/>
<circle cx="523.3" cy="2337" r="8.8"/>
<circle cx="548.2" cy="2336.3" r="8.8"/>
<circle cx="557.1" cy="2368.7" r="8.8"/>
<circle cx="527" cy="2377.8" r="8.8"/>
<circle cx="553" cy="2374.6" r="8.8"/>
<circle cx="557.3" cy="2272.7" r="8.8"/>
<circle cx="542.8" cy="2333.1" r="8.8"/>
<circle cx="541.6" cy="2360.2" r="8.8"/>
<circle cx="548.6" cy="2294.6" r="8.8"/>
<circle cx="556.7" cy="2325.5" r="8.8"/>
<circle cx="520.6" cy="2379.3" r="8.8"/>
<circle cx="561" cy="2310.2" r="8.8"/>
<circle cx="556.7" cy="2336.7" r="8.8"/>
<circle cx="537.8" cy="2301" r="8.8"/>
<circle cx="547.9" cy="2308.6" r="8.8"/>
<circle cx="533.9" cy="2279.7" r="8.8"/>
<circle cx="536.2" cy="2282.1" r="8.8"/>
<circle cx="526.9" cy="2360.8" r="8.8"/>
<circle cx="552.5" cy="2393.8" r="8.8"/>
<circle cx="532.3" cy="2295.2" r="8.8"/>
<circle cx="550.5" cy="2402.1" r="8.8"/>
<circle cx="520.5" cy="2323.3" r="8.8"/>
<circle cx="535.2" cy="2359.4" r="8.8"/>
<circle cx="545.2" cy="2345.9" r="8.8"/>
<circle cx="519.8" cy="2344.1" r="8.8"/>
<circle cx="552" cy="2404.3" r="8.8"/>
<circle cx="535.8" cy="2279" r="8.8"/>
<circle cx="527.4" cy="2259.5" r="8.8"/>
<circle cx="560.5" cy="2406.9" r="8.8"/>
<circle cx="527.5" cy="2260.1" r="8.8"/>
<circle cx="721.5" cy="2148.7" r="8.8"/>
<circle cx="759.9" cy="2156.1" r="8.8"/>
<circle cx="723.8" cy="2141.8" r="8.8"/>
<circle cx="722.5" cy="2122.5" r="8.8"/>
<circle cx="716.7" cy="2106.6" r="8.8"/>
<circle cx="775.8" cy="2080.6" r="8.8"/>
<circle cx="748" cy="2147.9" r="8.8"/>
<circle cx="746.6" cy="2152.7" r="8.8"/>
<circle cx="768.8" cy="2115.2" r="8.8"/>
<circle cx="763.9" cy="2135.7" r="8.8"/>
<circle cx="750.3" cy="2087.9" r="8.8"/>
<circle cx="754.2" cy="2146.8" r="8.8"/>
<circle cx="729.9" cy="2094.7" r="8.8"/>
<circle cx="719.3" cy="2086" r="8.8"/>
<circle cx="721.5" cy="2091.6" r="8.8"/>
<circle cx="723.3" cy="2123.8" r="8.8"/>
<circle cx="741.3" cy="2109.6" r="8.8"/>
<circle cx="772.5" cy="2118.3" r="8.8"/>
<circle cx="720.4" cy="2116.9" r="8.8"/>
<circle cx="743.5" cy="2086.3" r="8.8"/>
<circle cx="769.7" cy="2154" r="8.8"/>
<circle cx="755.4" cy="2126.4" r="8.8"/>
<circle cx="759.9" cy="2147.8" r="8.8"/>
<circle cx="742.8" cy="2110.2" r="8.8"/>
<circle cx="715.2" cy="2109.7" r="8.8"/>
<circle cx="728.7" cy="2131.1" r="8.8"/>
<circle cx="738.2" cy="2085.2" r="8.8"/>
<circle cx="732.3" cy="2090.7" r="8.8"/>
<circle cx="716.1" cy="2124.6" r="8.8"/>
<circle cx="772.4" cy="2136.7" r="8.8"/>
<circle cx="735.4" cy="2132.4" r="8.8"/>
<circle cx="728.7" cy="2102.6" r="8.8"/>
<circle cx="772.2" cy="2137.5" r="8.8"/>
<circle cx="742.5" cy="2149.9" r="8.8"/>
<circle cx="731.6" cy="2156" r="8.8"/>
<circle cx="739.4" cy="2152.3" r="8.8"/>
<circle cx="770.6" cy="2126.7" r="8.8"/>
<circle cx="730.8" cy="2098.8" r="8.8"/>
<circle cx="740.2" cy="2151.4" r="8.8"/>
<circle cx="751.6" cy="2090" r="8.8"/>
<circle cx="739.8" cy="2098.4" r="8.8"/>
<circle cx="713" cy="2113.7" r="8.8"/>
<circle cx="711.5" cy="2100.3" r="8.8"/>
<circle cx="761.9" cy="2116.9" r="8.8"/>
<circle cx="772.2" cy="2146.5" r="8.8"/>
<circle cx="721.2" cy="2126.7" r="8.8"/>
<circle cx="754.6" cy="2150.9" r="8.8"/>
<circle cx="741.9" cy="2125.2" r="8.8"/>
<circle cx="775.7" cy="2115.2" r="8.8"/>
<circle cx="773.6" cy="2115.9" r="8.8"/>
<circle cx="757.3" cy="2098.6" r="8.8"/>
<circle cx="718.6" cy="2151.8" r="8.8"/>
<circle cx="758.9" cy="2124.4" r="8.8"/>
<circle cx="762.2" cy="2127.7" r="8.8"/>
<circle cx="766.7" cy="2081.7" r="8.8"/>
<circle cx="759.6" cy="2138.3" r="8.8"/>
<circle cx="761.2" cy="2128.1" r="8.8"/>
<circle cx="763.6" cy="2133.3" r="8.8"/>
<circle cx="710.3" cy="2123.1" r="8.8"/>
<circle cx="728.3" cy="2093" r="8.8"/>
<circle cx="761.8" cy="2154.2" r="8.8"/>
<circle cx="722.4" cy="2156.1" r="8.8"/>
<circle cx="733.1" cy="2101.2" r="8.8"/>
<circle cx="773.8" cy="2120.3" r="8.8"/>
<circle cx="776" cy="2130.7" r="8.8"/>
<circle cx="741.6" cy="2078.4" r="8.8"/>
<circle cx="779.4" cy="2059.9" r="8.8"/>
<circle cx="723.2" cy="2080.9" r="8.8"/>
<circle cx="774.2" cy="2038.8" r="8.8"/>
<circle cx="768.8" cy="2048" r="8.8"/>
<circle cx="746.1" cy="2047.7" r="8.8"/>
<circle cx="740.8" cy="2072.5" r="8.8"/>
<circle cx="756.9" cy="2046.5" r="8.8"/>
<circle cx="714.7" cy="2069.1" r="8.8"/>
<circle cx="721.5" cy="2049.9" r="8.8"/>
<circle cx="756.9" cy="2078.4" r="8.8"/>
<circle cx="770.6" cy="2027.7" r="8.8"/>
<circle cx="775.3" cy="2077.6" r="8.8"/>
<circle cx="778.7" cy="2033.6" r="8.8"/>
<circle cx="777.6" cy="2039" r="8.8"/>
<circle cx="777.4" cy="2070.1" r="8.8"/>
<circle cx="732.2" cy="2070" r="8.8"/>
<circle cx="776.6" cy="2040.5" r="8.8"/>
<circle cx="729.8" cy="2067.8" r="8.8"/>
<circle cx="743.7" cy="2060.1" r="8.8"/>
<circle cx="761" cy="2041.3" r="8.8"/>
<circle cx="754.2" cy="2058.5" r="8.8"/>
<circle cx="756.9" cy="2069.3" r="8.8"/>
<circle cx="729.1" cy="2076.4" r="8.8"/>
<circle cx="770.8" cy="2073.1" r="8.8"/>
<circle cx="715.3" cy="2029.5" r="8.8"/>
<circle cx="727.9" cy="2004.5" r="8.8"/>
<circle cx="712.8" cy="2002.2" r="8.8"/>
<circle cx="732.4" cy="2001.4" r="8.8"/>
<circle cx="741" cy="1993.3" r="8.8"/>
<circle cx="773" cy="2006.3" r="8.8"/>
<circle cx="726.8" cy="2012" r="8.8"/>
<circle cx="779.7" cy="1991.6" r="8.8"/>
<circle cx="719.6" cy="2025" r="8.8"/>
<circle cx="729.1" cy="1994.8" r="8.8"/>
<circle cx="737.8" cy="2005.1" r="8.8"/>
<circle cx="621.6" cy="2070.7" r="8.8"/>
<circle cx="619" cy="2014.2" r="8.8"/>
<circle cx="638.6" cy="2051.3" r="8.8"/>
<circle cx="628.8" cy="2023.6" r="8.8"/>
<circle cx="609.5" cy="2056.9" r="8.8"/>
<circle cx="635.7" cy="2050.6" r="8.8"/>
<circle cx="617.6" cy="2068" r="8.8"/>
<circle cx="605.7" cy="2061.8" r="8.8"/>
<circle cx="642.3" cy="2035" r="8.8"/>
<circle cx="617" cy="2021.8" r="8.8"/>
<circle cx="603.8" cy="1996.3" r="8.8"/>
<circle cx="617.6" cy="2058.5" r="8.8"/>
<circle cx="624" cy="2057.2" r="8.8"/>
<circle cx="603" cy="2056.5" r="8.8"/>
<circle cx="616.2" cy="2017.6" r="8.8"/>
<circle cx="607.2" cy="2033.9" r="8.8"/>
<circle cx="648.9" cy="2076.1" r="8.8"/>
<circle cx="623.9" cy="2045" r="8.8"/>
<circle cx="626.4" cy="2054.2" r="8.8"/>
<circle cx="609.9" cy="2014" r="8.8"/>
<circle cx="606.1" cy="2050.9" r="8.8"/>
<circle cx="626.7" cy="2033.7" r="8.8"/>
<circle cx="597.7" cy="2031.8" r="8.8"/>
<circle cx="634.7" cy="1994.6" r="8.8"/>
<circle cx="602.5" cy="2026.1" r="8.8"/>
<circle cx="619.4" cy="2064.7" r="8.8"/>
<circle cx="628.6" cy="2035.5" r="8.8"/>
<circle cx="626.3" cy="2048.1" r="8.8"/>
<circle cx="642.2" cy="2020.2" r="8.8"/>
<circle cx="640" cy="2065.7" r="8.8"/>
<circle cx="599.8" cy="1994.5" r="8.8"/>
<circle cx="603" cy="2055.2" r="8.8"/>
<circle cx="604" cy="2053.3" r="8.8"/>
<circle cx="598.4" cy="2029" r="8.8"/>
<circle cx="625" cy="2005.5" r="8.8"/>
<circle cx="630.5" cy="2044.8" r="8.8"/>
<circle cx="631.9" cy="1992.9" r="8.8"/>
<circle cx="638.5" cy="2055.8" r="8.8"/>
<circle cx="603.9" cy="2053.6" r="8.8"/>
<circle cx="606.9" cy="2060.9" r="8.8"/>
<circle cx="635.6" cy="2008.6" r="8.8"/>
<circle cx="640.7" cy="2037.9" r="8.8"/>
<circle cx="620.3" cy="2050.9" r="8.8"/>
<circle cx="598.2" cy="2021.2" r="8.8"/>
<circle cx="649.4" cy="2075.6" r="8.8"/>
<circle cx="620.6" cy="2037.2" r="8.8"/>
<circle cx="622.2" cy="2038.3" r="8.8"/>
<circle cx="599.4" cy="2077.1" r="8.8"/>
<circle cx="642.9" cy="2017.3" r="8.8"/>
<circle cx="599.6" cy="2070.4" r="8.8"/>
<circle cx="598.7" cy="2063.8" r="8.8"/>
<circle cx="623.7" cy="2012.4" r="8.8"/>
<circle cx="622.3" cy="2043.5" r="8.8"/>
<circle cx="604.8" cy="2064.8" r="8.8"/>
<circle cx="604.3" cy="1995.9" r="8.8"/>
<circle cx="638.6" cy="2080.3" r="8.8"/>
<circle cx="627.1" cy="2074.1" r="8.8"/>
<circle cx="607.5" cy="1995.5" r="8.8"/>
<circle cx="629.3" cy="2020.8" r="8.8"/>
<circle cx="618.3" cy="2012" r="8.8"/>
<circle cx="648.6" cy="2068" r="8.8"/>
<circle cx="630.2" cy="2064.4" r="8.8"/>
<circle cx="616.8" cy="2016.5" r="8.8"/>
<circle cx="607.3" cy="2082.5" r="8.8"/>
<circle cx="629.5" cy="2062" r="8.8"/>
<circle cx="614.8" cy="2077.5" r="8.8"/>
<circle cx="599.7" cy="2083.5" r="8.8"/>
<circle cx="642.1" cy="2074.7" r="8.8"/>
<circle cx="634.8" cy="2068" r="8.8"/>
<circle cx="652.3" cy="2069.5" r="8.8"/>
<circle cx="660.7" cy="2032" r="8.8"/>
<circle cx="661.2" cy="2043.2" r="8.8"/>
<circle cx="651.4" cy="2017.1" r="8.8"/>
<circle cx="660.4" cy="2052.7" r="8.8"/>
<circle cx="655.2" cy="2063.3" r="8.8"/>
<circle cx="654.8" cy="2052.7" r="8.8"/>
<circle cx="657.2" cy="2073.3" r="8.8"/>
<circle cx="663.3" cy="2061.1" r="8.8"/>
<circle cx="664.6" cy="2072.6" r="8.8"/>
<circle cx="619.8" cy="1956.5" r="8.8"/>
<circle cx="633.4" cy="1992.1" r="8.8"/>
<circle cx="616.1" cy="1988.7" r="8.8"/>
<circle cx="650.8" cy="1975.9" r="8.8"/>
<circle cx="656.2" cy="1988.5" r="8.8"/>
<circle cx="628.9" cy="1992.2" r="8.8"/>
<circle cx="644.6" cy="1994.7" r="8.8"/>
<circle cx="607.9" cy="1968.1" r="8.8"/>
<circle cx="611.9" cy="1995.4" r="8.8"/>
<circle cx="597.6" cy="1963.9" r="8.8"/>
<circle cx="633.4" cy="1968.7" r="8.8"/>
<circle cx="602.2" cy="1962.2" r="8.8"/>
<circle cx="615.9" cy="1953.3" r="8.8"/>
<circle cx="630" cy="1991.5" r="8.8"/>
<circle cx="645.5" cy="1994.4" r="8.8"/>
<circle cx="603.5" cy="1953.9" r="8.8"/>
<circle cx="636.4" cy="1981.4" r="8.8"/>
<circle cx="629" cy="1951" r="8.8"/>
<circle cx="609.9" cy="1994.7" r="8.8"/>
<circle cx="834.9" cy="2333.9" r="8.8"/>
<circle cx="799.7" cy="2326.9" r="8.8"/>
<circle cx="827.7" cy="2384.1" r="8.8"/>
<circle cx="836.9" cy="2295.8" r="8.8"/>
<circle cx="829.4" cy="2263.7" r="8.8"/>
<circle cx="824.7" cy="2285.5" r="8.8"/>
<circle cx="827.2" cy="2309.3" r="8.8"/>
<circle cx="828.2" cy="2301.8" r="8.8"/>
<circle cx="844.4" cy="2301.4" r="8.8"/>
<circle cx="826.8" cy="2340.3" r="8.8"/>
<circle cx="816.1" cy="2378.3" r="8.8"/>
<circle cx="818.7" cy="2318.5" r="8.8"/>
<circle cx="801.3" cy="2282.5" r="8.8"/>
<circle cx="803.7" cy="2327" r="8.8"/>
<circle cx="824.6" cy="2342.4" r="8.8"/>
<circle cx="832.8" cy="2311.4" r="8.8"/>
<circle cx="810.9" cy="2308.1" r="8.8"/>
<circle cx="820.7" cy="2322.3" r="8.8"/>
<circle cx="825.3" cy="2335.2" r="8.8"/>
<circle cx="787.4" cy="2268.9" r="8.8"/>
<circle cx="821.5" cy="2389" r="8.8"/>
<circle cx="796.8" cy="2342.9" r="8.8"/>
<circle cx="830.9" cy="2362.9" r="8.8"/>
<circle cx="817" cy="2389.4" r="8.8"/>
<circle cx="808.2" cy="2396.9" r="8.8"/>
<circle cx="797.5" cy="2289" r="8.8"/>
<circle cx="796.1" cy="2291.5" r="8.8"/>
<circle cx="827.4" cy="2289.2" r="8.8"/>
<circle cx="835.4" cy="2276.5" r="8.8"/>
<circle cx="827.2" cy="2377.1" r="8.8"/>
<circle cx="793.6" cy="2314.6" r="8.8"/>
<circle cx="789.5" cy="2251" r="8.8"/>
<circle cx="802.9" cy="2323.3" r="8.8"/>
<circle cx="819.1" cy="2258.9" r="8.8"/>
<circle cx="819.5" cy="2269.3" r="8.8"/>
<circle cx="841.9" cy="2328.5" r="8.8"/>
<circle cx="821.1" cy="2302.8" r="8.8"/>
<circle cx="792.6" cy="2300.2" r="8.8"/>
<circle cx="809.6" cy="2300.8" r="8.8"/>
<circle cx="799" cy="2328.1" r="8.8"/>
<circle cx="828.1" cy="2300.3" r="8.8"/>
<circle cx="799.8" cy="2277.2" r="8.8"/>
<circle cx="808.3" cy="2291.2" r="8.8"/>
<circle cx="829.6" cy="2324.2" r="8.8"/>
<circle cx="813.4" cy="2338.4" r="8.8"/>
<circle cx="827" cy="2361.7" r="8.8"/>
<circle cx="804.8" cy="2341.6" r="8.8"/>
<circle cx="825.7" cy="2385.3" r="8.8"/>
<circle cx="840.6" cy="2300.6" r="8.8"/>
<circle cx="791.8" cy="2258.7" r="8.8"/>
<circle cx="819.3" cy="2344" r="8.8"/>
<circle cx="807.1" cy="2292.5" r="8.8"/>
<circle cx="826" cy="2286.8" r="8.8"/>
<circle cx="841.2" cy="2291.4" r="8.8"/>
<circle cx="814" cy="2388.3" r="8.8"/>
<circle cx="809.9" cy="2352.8" r="8.8"/>
<circle cx="809.5" cy="2388.2" r="8.8"/>
<circle cx="798" cy="2354.9" r="8.8"/>
<circle cx="813.2" cy="2321.7" r="8.8"/>
<circle cx="807.2" cy="2300.6" r="8.8"/>
<circle cx="816" cy="2281.3" r="8.8"/>
<circle cx="827.2" cy="2285.7" r="8.8"/>
<circle cx="787.4" cy="2253.3" r="8.8"/>
<circle cx="804.9" cy="2339.2" r="8.8"/>
<circle cx="835.2" cy="2282.7" r="8.8"/>
<circle cx="803.1" cy="2376.8" r="8.8"/>
<circle cx="811.7" cy="2306.1" r="8.8"/>
<circle cx="790.9" cy="2326.6" r="8.8"/>
<circle cx="813.2" cy="2344.3" r="8.8"/>
<circle cx="820.8" cy="2308.3" r="8.8"/>
<circle cx="806.1" cy="2386" r="8.8"/>
<circle cx="812.8" cy="2356.2" r="8.8"/>
<circle cx="806" cy="2302.7" r="8.8"/>
<circle cx="800.3" cy="2291.3" r="8.8"/>
<circle cx="832.2" cy="2327.6" r="8.8"/>
<circle cx="791.6" cy="2263.8" r="8.8"/>
<circle cx="802.1" cy="2325.5" r="8.8"/>
<circle cx="810.5" cy="2309.6" r="8.8"/>
<circle cx="837.8" cy="2297.6" r="8.8"/>
<circle cx="786" cy="2265" r="8.8"/>
<circle cx="835" cy="2349.8" r="8.8"/>
<circle cx="804.4" cy="2325.1" r="8.8"/>
<circle cx="827.8" cy="2370.4" r="8.8"/>
<circle cx="793.6" cy="2322.8" r="8.8"/>
<circle cx="807.4" cy="2290.7" r="8.8"/>
<circle cx="802.8" cy="2255.7" r="8.8"/>
<circle cx="791.5" cy="2307.2" r="8.8"/>
<circle cx="805.9" cy="2285.1" r="8.8"/>
<circle cx="827.1" cy="2283.5" r="8.8"/>
<circle cx="818.6" cy="2360.5" r="8.8"/>
<circle cx="820.9" cy="2351" r="8.8"/>
<circle cx="801.8" cy="2259.3" r="8.8"/>
<circle cx="939.9" cy="2306.9" r="8.8"/>
<circle cx="904.2" cy="2278.8" r="8.8"/>
<circle cx="875.5" cy="2326.3" r="8.8"/>
<circle cx="882.9" cy="2298.2" r="8.8"/>
<circle cx="902.5" cy="2329.9" r="8.8"/>
<circle cx="913.5" cy="2327.6" r="8.8"/>
<circle cx="842.8" cy="2264.2" r="8.8"/>
<circle cx="880.8" cy="2280.2" r="8.8"/>
<circle cx="893.5" cy="2285.2" r="8.8"/>
<circle cx="924.4" cy="2325.5" r="8.8"/>
<circle cx="904.4" cy="2281.9" r="8.8"/>
<circle cx="903.8" cy="2323.6" r="8.8"/>
<circle cx="919.3" cy="2275.4" r="8.8"/>
<circle cx="910.7" cy="2290.8" r="8.8"/>
<circle cx="904" cy="2288.9" r="8.8"/>
<circle cx="881.9" cy="2290.8" r="8.8"/>
<circle cx="626.4" cy="1713.5" r="8.8"/>
<circle cx="640" cy="1759.3" r="8.8"/>
<circle cx="641" cy="1836.5" r="8.8"/>
<circle cx="644.1" cy="1854.4" r="8.8"/>
<circle cx="660.4" cy="1859.7" r="8.8"/>
<circle cx="611.6" cy="1878.2" r="8.8"/>
<circle cx="626.4" cy="1873.6" r="8.8"/>
<circle cx="653.3" cy="1886" r="8.8"/>
<circle cx="624.6" cy="1916.9" r="8.8"/>
<circle cx="665.7" cy="1963.2" r="8.8"/>
<circle cx="665.7" cy="1986.4" r="8.8"/>
<circle cx="617.8" cy="1957.1" r="8.8"/>
<circle cx="630.1" cy="1966.3" r="8.8"/>
<circle cx="639.4" cy="1975.6" r="8.8"/>
<circle cx="645.6" cy="1988" r="8.8"/>
<circle cx="651.8" cy="2006.5" r="8.8"/>
<circle cx="636.3" cy="2012.7" r="8.8"/>
<circle cx="620.9" cy="2012.7" r="8.8"/>
<circle cx="614.7" cy="1997.2" r="8.8"/>
<circle cx="627.1" cy="2028.1" r="8.8"/>
<circle cx="651.8" cy="2028.1" r="8.8"/>
<circle cx="661.1" cy="2043.6" r="8.8"/>
<circle cx="645.6" cy="2049.8" r="8.8"/>
<circle cx="633.2" cy="2062.1" r="8.8"/>
<circle cx="651.8" cy="2068.3" r="8.8"/>
<circle cx="665.7" cy="2074.5" r="8.8"/>
<circle cx="639.4" cy="2083.8" r="8.8"/>
<circle cx="620.9" cy="2090" r="8.8"/>
<circle cx="667.2" cy="2099.2" r="8.8"/>
<circle cx="651.8" cy="2105.4" r="8.8"/>
<circle cx="636.3" cy="2111.6" r="8.8"/>
<circle cx="614.7" cy="2105.4" r="8.8"/>
<circle cx="673.4" cy="2117.8" r="8.8"/>
<circle cx="710.9" cy="1870.5" r="8.8"/>
<circle cx="752.1" cy="1856.1" r="8.8"/>
<circle cx="778.9" cy="2012.7" r="8.8"/>
<circle cx="774.8" cy="2033.3" r="8.8"/>
<circle cx="770.7" cy="2045.7" r="8.8"/>
<circle cx="758.3" cy="2053.9" r="8.8"/>
<circle cx="719.1" cy="2060.1" r="8.8"/>
<circle cx="737.7" cy="2080.7" r="8.8"/>
<circle cx="770.7" cy="2068.3" r="8.8"/>
<circle cx="721.2" cy="2070.4" r="8.8"/>
<circle cx="745.9" cy="2091" r="8.8"/>
<circle cx="760.4" cy="2099.2" r="8.8"/>
<circle cx="770.7" cy="2111.6" r="8.8"/>
<circle cx="774.8" cy="2105.4" r="8.8"/>
<circle cx="805.3" cy="2256.6" r="8.8"/>
<circle cx="814.1" cy="2269.8" r="8.8"/>
<circle cx="831.6" cy="2296.2" r="8.8"/>
<circle cx="844.8" cy="2313.7" r="8.8"/>
<circle cx="853.6" cy="2331.3" r="8.8"/>
<circle cx="862.4" cy="2304.9" r="8.8"/>
<circle cx="875.6" cy="2313.7" r="8.8"/>
<circle cx="886.6" cy="2309.3" r="8.8"/>
<circle cx="902" cy="2313.7" r="8.8"/>
<circle cx="915.2" cy="2307.1" r="8.8"/>
<circle cx="937.1" cy="2309.3" r="8.8"/>
<circle cx="956.9" cy="2309.3" r="8.8"/>
<circle cx="919.6" cy="2322.5" r="8.8"/>
<circle cx="844.8" cy="2335.7" r="8.8"/>
<circle cx="836" cy="2357.7" r="8.8"/>
<circle cx="849.2" cy="2366.5" r="8.8"/>
<circle cx="827.3" cy="2375.3" r="8.8"/>
<circle cx="818.5" cy="2388.5" r="8.8"/>
<circle cx="884.4" cy="2373.1" r="8.8"/>
<circle cx="880" cy="2388.5" r="8.8"/>
<circle cx="1097.6" cy="2375.3" r="8.8"/>
<circle cx="796.5" cy="2397.3" r="8.8"/>
<circle cx="787.7" cy="2401.6" r="8.8"/>
<circle cx="809.7" cy="2252.2" r="8.8"/>
<circle cx="822.9" cy="2278.6" r="8.8"/>
<circle cx="840.4" cy="2283" r="8.8"/>
<circle cx="858" cy="2287.4" r="8.8"/>
<circle cx="866.8" cy="2256.6" r="8.8"/>
<circle cx="888.8" cy="2256.6" r="8.8"/>
<circle cx="469.7" cy="2277.6" r="8.8"/>
<circle cx="505.5" cy="2288.7" r="8.8"/>
<circle cx="334.1" cy="2310.6" r="8.8"/>
<circle cx="419" cy="2318" r="8.8"/>
<circle cx="428.5" cy="2322.9" r="8.8"/>
<circle cx="460.2" cy="2339.4" r="8.8"/>
<circle cx="467.6" cy="2355.9" r="8.8"/>
<circle cx="469.7" cy="2362.1" r="8.8"/>
<circle cx="465.6" cy="2368.3" r="8.8"/>
<circle cx="486.2" cy="2379.4" r="8.8"/>
<circle cx="464.3" cy="2388.9" r="8.8"/>
<circle cx="477.9" cy="2403.3" r="8.8"/>
<circle cx="320.1" cy="2369.5" r="8.8"/>
<circle cx="289.2" cy="2391.8" r="8.8"/>
<circle cx="413.2" cy="2386" r="8.8"/>
<circle cx="531.5" cy="2387.6" r="8.8"/>
<circle cx="548.8" cy="2384.7" r="8.8"/>
<circle cx="535.6" cy="2408.2" r="8.8"/>
<circle cx="562.4" cy="2405.4" r="8.8"/>
<circle cx="611.9" cy="2430.1" r="8.8"/>
<circle cx="517.1" cy="2337.4" r="8.8"/>
<circle cx="535.6" cy="2335.3" r="8.8"/>
<circle cx="519.1" cy="2349.7" r="8.8"/>
<circle cx="554.2" cy="2337.4" r="8.8"/>
<circle cx="604.4" cy="2084.1" r="8.8"/>
<circle cx="609.4" cy="2083.4" r="8.8"/>
<circle cx="619.1" cy="2078.5" r="8.8"/>
<circle cx="613.3" cy="2064.4" r="8.8"/>
<circle cx="622.8" cy="2079.5" r="8.8"/>
<circle cx="631.1" cy="2078.3" r="8.8"/>
<circle cx="634.3" cy="2082.3" r="8.8"/>
<circle cx="643.6" cy="2084.3" r="8.8"/>
<circle cx="627" cy="2066" r="8.8"/>
<circle cx="637" cy="2068.9" r="8.8"/>
<circle cx="641" cy="2087.9" r="8.8"/>
<circle cx="647.9" cy="2096.1" r="8.8"/>
<circle cx="650.2" cy="2083.6" r="8.8"/>
<circle cx="649.5" cy="2097.2" r="8.8"/>
<circle cx="654.6" cy="2105.6" r="8.8"/>
<circle cx="654.4" cy="2113.4" r="8.8"/>
<circle cx="654.4" cy="2116.3" r="8.8"/>
<circle cx="654" cy="2128.4" r="8.8"/>
<circle cx="659.8" cy="2131.5" r="8.8"/>
<circle cx="659.6" cy="2137.5" r="8.8"/>
<circle cx="661.3" cy="2146.6" r="8.8"/>
<circle cx="664.9" cy="2153.1" r="8.8"/>
<circle cx="668.8" cy="2158.7" r="8.8"/>
<circle cx="668.1" cy="2168.8" r="8.8"/>
<circle cx="669.2" cy="2174.3" r="8.8"/>
<circle cx="670.9" cy="2177.6" r="8.8"/>
<circle cx="673.1" cy="2182.2" r="8.8"/>
<circle cx="674.3" cy="2193.6" r="8.8"/>
<circle cx="674.8" cy="2199.6" r="8.8"/>
<circle cx="673.2" cy="2210.2" r="8.8"/>
<circle cx="671.6" cy="2216.9" r="8.8"/>
<circle cx="674" cy="2223.5" r="8.8"/>
<circle cx="673.4" cy="2230.9" r="8.8"/>
<circle cx="677.6" cy="2237.1" r="8.8"/>
<circle cx="677.7" cy="2248" r="8.8"/>
<circle cx="675.6" cy="2252.8" r="8.8"/>
<circle cx="676.3" cy="2260.4" r="8.8"/>
<circle cx="674.4" cy="2270.8" r="8.8"/>
<circle cx="680" cy="2274.3" r="8.8"/>
<circle cx="678.5" cy="2281" r="8.8"/>
<circle cx="681.9" cy="2291.6" r="8.8"/>
<circle cx="676.9" cy="2297.8" r="8.8"/>
<circle cx="680.5" cy="2306.6" r="8.8"/>
<circle cx="680.5" cy="2310.7" r="8.8"/>
<circle cx="682.4" cy="2317.4" r="8.8"/>
<circle cx="683.1" cy="2325.4" r="8.8"/>
<circle cx="683.5" cy="2329.6" r="8.8"/>
<circle cx="681.6" cy="2334" r="8.8"/>
<circle cx="682.9" cy="2347.2" r="8.8"/>
<circle cx="681.5" cy="2357.2" r="8.8"/>
<circle cx="682.5" cy="2357.9" r="8.8"/>
<circle cx="686.8" cy="2371.7" r="8.8"/>
<circle cx="682" cy="2376.3" r="8.8"/>
<circle cx="692.9" cy="2384.5" r="8.8"/>
<circle cx="697.5" cy="2378.2" r="8.8"/>
<circle cx="697.3" cy="2373.5" r="8.8"/>
<circle cx="699.7" cy="2358.3" r="8.8"/>
<circle cx="705" cy="2353.1" r="8.8"/>
<circle cx="705.5" cy="2341.9" r="8.8"/>
<circle cx="706.7" cy="2337.8" r="8.8"/>
<circle cx="704.8" cy="2331.2" r="8.8"/>
<circle cx="707.4" cy="2324" r="8.8"/>
<circle cx="705" cy="2319" r="8.8"/>
<circle cx="708" cy="2313.3" r="8.8"/>
<circle cx="708.8" cy="2303.6" r="8.8"/>
<circle cx="706.6" cy="2295.9" r="8.8"/>
<circle cx="706.1" cy="2287.8" r="8.8"/>
<circle cx="705.4" cy="2283.2" r="8.8"/>
<circle cx="708.3" cy="2275.3" r="8.8"/>
<circle cx="710.1" cy="2266.8" r="8.8"/>
<circle cx="709.8" cy="2260.5" r="8.8"/>
<circle cx="709.3" cy="2255.3" r="8.8"/>
<circle cx="706.8" cy="2248.1" r="8.8"/>
<circle cx="707.1" cy="2241" r="8.8"/>
<circle cx="712.8" cy="2234.6" r="8.8"/>
<circle cx="710.5" cy="2220" r="8.8"/>
<circle cx="709.4" cy="2213.4" r="8.8"/>
<circle cx="712.1" cy="2209.7" r="8.8"/>
<circle cx="714.4" cy="2204.6" r="8.8"/>
<circle cx="708.9" cy="2194.9" r="8.8"/>
<circle cx="715.6" cy="2187.1" r="8.8"/>
<circle cx="715.2" cy="2181.4" r="8.8"/>
<circle cx="714.2" cy="2170.8" r="8.8"/>
<circle cx="715" cy="2167.7" r="8.8"/>
<circle cx="717.5" cy="2161.6" r="8.8"/>
<circle cx="725.4" cy="2156.1" r="8.8"/>
<circle cx="727.7" cy="2155.4" r="8.8"/>
<circle cx="731.6" cy="2156.5" r="8.8"/>
<circle cx="738.6" cy="2153.7" r="8.8"/>
<circle cx="751.1" cy="2152.5" r="8.8"/>
<circle cx="758.5" cy="2151.4" r="8.8"/>
<circle cx="745.2" cy="2141" r="8.8"/>
<circle cx="765.8" cy="2153" r="8.8"/>
<circle cx="771.7" cy="2153" r="8.8"/>
<circle cx="773.8" cy="2153.9" r="8.8"/>
<circle cx="772" cy="2153.1" r="8.8"/>
<circle cx="776" cy="2163.5" r="8.8"/>
<circle cx="773.1" cy="2169.7" r="8.8"/>
<circle cx="772.2" cy="2175.7" r="8.8"/>
<circle cx="772.9" cy="2178.2" r="8.8"/>
<circle cx="774.5" cy="2189.8" r="8.8"/>
<circle cx="772.3" cy="2197.3" r="8.8"/>
<circle cx="776.3" cy="2203.3" r="8.8"/>
<circle cx="776.6" cy="2209.5" r="8.8"/>
<circle cx="774.4" cy="2219.2" r="8.8"/>
<circle cx="778" cy="2223" r="8.8"/>
<circle cx="777.5" cy="2233.2" r="8.8"/>
<circle cx="779" cy="2237.8" r="8.8"/>
<circle cx="777.9" cy="2241.7" r="8.8"/>
<circle cx="789.6" cy="2159.1" r="8.8"/>
<circle cx="784" cy="2210.4" r="8.8"/>
<circle cx="787.1" cy="2245.4" r="8.8"/>
<circle cx="780.9" cy="2254.3" r="8.8"/>
<circle cx="787.7" cy="2258.6" r="8.8"/>
<circle cx="792.4" cy="2260.7" r="8.8"/>
<circle cx="790.7" cy="2241.1" r="8.8"/>
<circle cx="803.9" cy="2265.7" r="8.8"/>
<circle cx="804.2" cy="2269.5" r="8.8"/>
<circle cx="805.2" cy="2281.4" r="8.8"/>
<circle cx="806.5" cy="2285.3" r="8.8"/>
<circle cx="797.7" cy="2295.4" r="8.8"/>
<circle cx="796.6" cy="2300.3" r="8.8"/>
<circle cx="811.5" cy="2292.8" r="8.8"/>
<circle cx="800" cy="2306.9" r="8.8"/>
<circle cx="794.7" cy="2314.9" r="8.8"/>
<circle cx="793.4" cy="2326.1" r="8.8"/>
<circle cx="807.9" cy="2316.6" r="8.8"/>
<circle cx="804.2" cy="2325.5" r="8.8"/>
<circle cx="793.9" cy="2331.4" r="8.8"/>
<circle cx="793.2" cy="2339" r="8.8"/>
<circle cx="790.4" cy="2344.1" r="8.8"/>
<circle cx="802.4" cy="2342" r="8.8"/>
<circle cx="791.7" cy="2353.3" r="8.8"/>
<circle cx="788.4" cy="2356.6" r="8.8"/>
<circle cx="781.6" cy="2366.5" r="8.8"/>
<circle cx="799" cy="2363.3" r="8.8"/>
<circle cx="796.5" cy="2365.1" r="8.8"/>
<circle cx="782.2" cy="2374.3" r="8.8"/>
<circle cx="777" cy="2384.6" r="8.8"/>
<circle cx="776.2" cy="2386.2" r="8.8"/>
<circle cx="769.1" cy="2391" r="8.8"/>
<circle cx="768.9" cy="2399.6" r="8.8"/>
<circle cx="761.6" cy="2402.3" r="8.8"/>
<circle cx="757.3" cy="2406.9" r="8.8"/>
<circle cx="757.3" cy="2413" r="8.8"/>
<circle cx="744.6" cy="2417.4" r="8.8"/>
<circle cx="742.9" cy="2420.3" r="8.8"/>
<circle cx="738.2" cy="2423.6" r="8.8"/>
<circle cx="727.6" cy="2433.2" r="8.8"/>
<circle cx="762.1" cy="2425.4" r="8.8"/>
<circle cx="752.9" cy="2433.2" r="8.8"/>
<circle cx="742.4" cy="2437.9" r="8.8"/>
<circle cx="722.8" cy="2436.5" r="8.8"/>
<circle cx="722.3" cy="2438.1" r="8.8"/>
<circle cx="710.1" cy="2445" r="8.8"/>
<circle cx="727.5" cy="2441.8" r="8.8"/>
<circle cx="724.4" cy="2451" r="8.8"/>
<circle cx="704.5" cy="2446.2" r="8.8"/>
<circle cx="699.6" cy="2450.1" r="8.8"/>
<circle cx="690.6" cy="2450.6" r="8.8"/>
<circle cx="686.3" cy="2449" r="8.8"/>
<circle cx="672.9" cy="2444.4" r="8.8"/>
<circle cx="663" cy="2442.2" r="8.8"/>
<circle cx="660.9" cy="2440.2" r="8.8"/>
<circle cx="652.4" cy="2432.3" r="8.8"/>
<circle cx="643.9" cy="2432.1" r="8.8"/>
<circle cx="640.9" cy="2429.9" r="8.8"/>
<circle cx="634.5" cy="2419.7" r="8.8"/>
<circle cx="633.5" cy="2419.5" r="8.8"/>
<circle cx="628.4" cy="2413.3" r="8.8"/>
<circle cx="641.6" cy="2440.8" r="8.8"/>
<circle cx="633.3" cy="2434" r="8.8"/>
<circle cx="621.8" cy="2409.7" r="8.8"/>
<circle cx="615.4" cy="2401.7" r="8.8"/>
<circle cx="610.9" cy="2394.4" r="8.8"/>
<circle cx="600.8" cy="2398" r="8.8"/>
<circle cx="612.1" cy="2392.2" r="8.8"/>
<circle cx="611.3" cy="2380.2" r="8.8"/>
<circle cx="608.8" cy="2374.6" r="8.8"/>
<circle cx="596.1" cy="2387.7" r="8.8"/>
<circle cx="604.7" cy="2365.4" r="8.8"/>
<circle cx="605.6" cy="2362.2" r="8.8"/>
<circle cx="603.3" cy="2352.3" r="8.8"/>
<circle cx="604.8" cy="2345.5" r="8.8"/>
<circle cx="601.5" cy="2337.3" r="8.8"/>
<circle cx="600.3" cy="2332" r="8.8"/>
<circle cx="596.9" cy="2367.6" r="8.8"/>
<circle cx="591.2" cy="2358.7" r="8.8"/>
<circle cx="595.3" cy="2346.9" r="8.8"/>
<circle cx="599.6" cy="2323.8" r="8.8"/>
<circle cx="601.4" cy="2314.2" r="8.8"/>
<circle cx="599.3" cy="2310.1" r="8.8"/>
<circle cx="603" cy="2305.4" r="8.8"/>
<circle cx="598.5" cy="2296.2" r="8.8"/>
<circle cx="597.9" cy="2284.2" r="8.8"/>
<circle cx="590.3" cy="2320.1" r="8.8"/>
<circle cx="591.7" cy="2311.7" r="8.8"/>
<circle cx="591.4" cy="2302.6" r="8.8"/>
<circle cx="596.9" cy="2280.4" r="8.8"/>
<circle cx="597.4" cy="2274.4" r="8.8"/>
<circle cx="598" cy="2266.4" r="8.8"/>
<circle cx="590.6" cy="2284.7" r="8.8"/>
<circle cx="585.2" cy="2272.7" r="8.8"/>
<circle cx="598.7" cy="2260.7" r="8.8"/>
<circle cx="597.4" cy="2247" r="8.8"/>
<circle cx="601.1" cy="2242.6" r="8.8"/>
<circle cx="596.1" cy="2236.6" r="8.8"/>
<circle cx="600.1" cy="2229.2" r="8.8"/>
<circle cx="596.4" cy="2225.5" r="8.8"/>
<circle cx="602.2" cy="2214.3" r="8.8"/>
<circle cx="601.3" cy="2208.2" r="8.8"/>
<circle cx="601.2" cy="2204.3" r="8.8"/>
<circle cx="585" cy="2227.3" r="8.8"/>
<circle cx="602.6" cy="2199.8" r="8.8"/>
<circle cx="601.9" cy="2191.2" r="8.8"/>
<circle cx="601.6" cy="2184.8" r="8.8"/>
<circle cx="602.4" cy="2176.5" r="8.8"/>
<circle cx="603.4" cy="2171.9" r="8.8"/>
<circle cx="602.8" cy="2162.1" r="8.8"/>
<circle cx="601" cy="2157.5" r="8.8"/>
<circle cx="598.6" cy="2153.4" r="8.8"/>
<circle cx="603.6" cy="2146" r="8.8"/>
<circle cx="599.4" cy="2138.7" r="8.8"/>
<circle cx="601.3" cy="2129.6" r="8.8"/>
<circle cx="587.9" cy="2195.9" r="8.8"/>
<circle cx="590.9" cy="2172.2" r="8.8"/>
<circle cx="588" cy="2135.9" r="8.8"/>
<circle cx="601.4" cy="2126.5" r="8.8"/>
<circle cx="600" cy="2115.4" r="8.8"/>
<circle cx="600.9" cy="2113.8" r="8.8"/>
<circle cx="602.1" cy="2102.2" r="8.8"/>
<circle cx="605.2" cy="2097.6" r="8.8"/>
<circle cx="603.9" cy="2088.9" r="8.8"/>
<circle cx="599.6" cy="2083.8" r="8.8"/>
<circle cx="592.9" cy="2125.3" r="8.8"/>
<circle cx="595.2" cy="2096.8" r="8.8"/>
<circle cx="593.9" cy="2085.9" r="8.8"/>
</g>
<g class="d">
<circle cx="588.1" cy="2189.5" r="8.8"/>
<circle cx="589.2" cy="2201.8" r="8.8"/>
<circle cx="574" cy="2234.2" r="8.8"/>
<circle cx="586.7" cy="2238.3" r="8.8"/>
<circle cx="574" cy="2219.7" r="8.8"/>
<circle cx="570.2" cy="2192.7" r="8.8"/>
<circle cx="568.6" cy="2217.5" r="8.8"/>
<circle cx="583.4" cy="2199.2" r="8.8"/>
<circle cx="570.6" cy="2152.6" r="8.8"/>
<circle cx="572.4" cy="2152.1" r="8.8"/>
<circle cx="594.4" cy="2201.7" r="8.8"/>
<circle cx="579.8" cy="2171.9" r="8.8"/>
<circle cx="575.3" cy="2205.8" r="8.8"/>
<circle cx="583.3" cy="2211.4" r="8.8"/>
<circle cx="583.2" cy="2191.6" r="8.8"/>
<circle cx="580.9" cy="2235.3" r="8.8"/>
<circle cx="575.2" cy="2200.5" r="8.8"/>
<circle cx="576.7" cy="2214.1" r="8.8"/>
<circle cx="578" cy="2064" r="8.8"/>
<circle cx="590.2" cy="2109.6" r="8.8"/>
<circle cx="522.1" cy="2073.2" r="8.8"/>
<circle cx="545.8" cy="2029.7" r="8.8"/>
<circle cx="587.5" cy="1963.3" r="8.8"/>
<circle cx="578.4" cy="2043.3" r="8.8"/>
<circle cx="591.7" cy="2097.4" r="8.8"/>
<circle cx="563.4" cy="1995.4" r="8.8"/>
<circle cx="572.3" cy="1967.3" r="8.8"/>
<circle cx="574.7" cy="2077.7" r="8.8"/>
<circle cx="524.9" cy="2034.9" r="8.8"/>
<circle cx="593.9" cy="1994.9" r="8.8"/>
<circle cx="519.6" cy="2001.6" r="8.8"/>
<circle cx="550" cy="2037.8" r="8.8"/>
<circle cx="547.7" cy="2165" r="8.8"/>
<circle cx="589.2" cy="2016.6" r="8.8"/>
<circle cx="546.5" cy="2060.8" r="8.8"/>
<circle cx="547.5" cy="2039.6" r="8.8"/>
<circle cx="542.1" cy="2097.4" r="8.8"/>
<circle cx="566.5" cy="2087.3" r="8.8"/>
<circle cx="555.9" cy="1983.3" r="8.8"/>
<circle cx="583.8" cy="2060.1" r="8.8"/>
<circle cx="592.5" cy="1992.4" r="8.8"/>
<circle cx="578.4" cy="2092.8" r="8.8"/>
<circle cx="537.9" cy="2016.4" r="8.8"/>
<circle cx="529.5" cy="2098.4" r="8.8"/>
<circle cx="568.3" cy="2075" r="8.8"/>
<circle cx="546.9" cy="2145.6" r="8.8"/>
<circle cx="592.7" cy="2098.5" r="8.8"/>
<circle cx="546.7" cy="2092.1" r="8.8"/>
<circle cx="522.2" cy="2141.9" r="8.8"/>
<circle cx="556.3" cy="2122.9" r="8.8"/>
<circle cx="541.7" cy="2004.4" r="8.8"/>
<circle cx="541.4" cy="1989.7" r="8.8"/>
<circle cx="528" cy="1992.5" r="8.8"/>
<circle cx="534.6" cy="2005.5" r="8.8"/>
<circle cx="584.7" cy="2093.6" r="8.8"/>
<circle cx="585.3" cy="1640.3" r="8.8"/>
<circle cx="552.3" cy="1661" r="8.8"/>
<circle cx="515.2" cy="1735.5" r="8.8"/>
<circle cx="559.1" cy="1835.3" r="8.8"/>
<circle cx="578.2" cy="1837.1" r="8.8"/>
<circle cx="513.3" cy="1849.8" r="8.8"/>
<circle cx="420.9" cy="1874.5" r="8.8"/>
<circle cx="449.3" cy="1902" r="8.8"/>
<circle cx="577" cy="1882.3" r="8.8"/>
<circle cx="593.7" cy="1915.3" r="8.8"/>
<circle cx="508.4" cy="1943.8" r="8.8"/>
<circle cx="352.6" cy="1971.9" r="8.8"/>
<circle cx="532.5" cy="1968.8" r="8.8"/>
<circle cx="577" cy="1933.9" r="8.8"/>
<circle cx="569.9" cy="1948.4" r="8.8"/>
<circle cx="591.5" cy="1944.7" r="8.8"/>
<circle cx="588.4" cy="1960.1" r="8.8"/>
<circle cx="596.1" cy="1977.1" r="8.8"/>
<circle cx="580.7" cy="1983.3" r="8.8"/>
<circle cx="562.8" cy="1973.1" r="8.8"/>
<circle cx="557.5" cy="1984.9" r="8.8"/>
<circle cx="416" cy="2052.9" r="8.8"/>
<circle cx="454" cy="2064.3" r="8.8"/>
<circle cx="466.3" cy="2061.2" r="8.8"/>
<circle cx="478.7" cy="2069.9" r="8.8"/>
<circle cx="499.7" cy="2059" r="8.8"/>
<circle cx="515.2" cy="2046.1" r="8.8"/>
<circle cx="506.5" cy="2083.8" r="8.8"/>
<circle cx="524.4" cy="2078.2" r="8.8"/>
<circle cx="483.3" cy="2100.8" r="8.8"/>
<circle cx="484.9" cy="2114.7" r="8.8"/>
<circle cx="498.8" cy="2111.6" r="8.8"/>
<circle cx="500.3" cy="2123.9" r="8.8"/>
<circle cx="529.4" cy="2092.2" r="8.8"/>
<circle cx="525.3" cy="2105.8" r="8.8"/>
<circle cx="533.6" cy="2131.3" r="8.8"/>
<circle cx="543.9" cy="2137.5" r="8.8"/>
<circle cx="552.1" cy="2141.6" r="8.8"/>
<circle cx="550" cy="2123.1" r="8.8"/>
<circle cx="490.3" cy="2156" r="8.8"/>
<circle cx="504.7" cy="2162.2" r="8.8"/>
<circle cx="510.9" cy="2176.6" r="8.8"/>
<circle cx="498.5" cy="2178.7" r="8.8"/>
<circle cx="519.1" cy="2180.8" r="8.8"/>
<circle cx="521.2" cy="2193.1" r="8.8"/>
<circle cx="533.6" cy="2164.3" r="8.8"/>
<circle cx="541.8" cy="2156" r="8.8"/>
<circle cx="550" cy="2184.9" r="8.8"/>
<circle cx="558.3" cy="2189" r="8.8"/>
<circle cx="564.5" cy="2172.5" r="8.8"/>
<circle cx="416.1" cy="2187.8" r="8.8"/>
<circle cx="419" cy="2239.7" r="8.8"/>
<circle cx="296.6" cy="2240.5" r="8.8"/>
<circle cx="574.8" cy="2036.5" r="8.8"/>
<circle cx="583" cy="2053" r="8.8"/>
<circle cx="570.7" cy="2061.3" r="8.8"/>
<circle cx="537.7" cy="2032.4" r="8.8"/>
<circle cx="554.2" cy="2036.5" r="8.8"/>
<circle cx="521.2" cy="2230.2" r="8.8"/>
</g>
<g class="u">
<circle cx="791.1" cy="2234.1" r="8.8"/>
<circle cx="816.6" cy="2228.2" r="8.8"/>
<circle cx="817.7" cy="2195.4" r="8.8"/>
<circle cx="784.7" cy="2175.9" r="8.8"/>
<circle cx="782.3" cy="2165.9" r="8.8"/>
<circle cx="826" cy="2206.6" r="8.8"/>
<circle cx="815.4" cy="2176" r="8.8"/>
<circle cx="830.1" cy="2218.5" r="8.8"/>
<circle cx="835.7" cy="2224.6" r="8.8"/>
<circle cx="798.4" cy="2194" r="8.8"/>
<circle cx="829.6" cy="2193.4" r="8.8"/>
<circle cx="825.2" cy="2212.2" r="8.8"/>
<circle cx="784.2" cy="2184" r="8.8"/>
<circle cx="795.3" cy="2218.4" r="8.8"/>
<circle cx="788" cy="2204" r="8.8"/>
<circle cx="829.7" cy="2174.1" r="8.8"/>
<circle cx="792.3" cy="2184.4" r="8.8"/>
<circle cx="810" cy="2200" r="8.8"/>
<circle cx="788.5" cy="2213.9" r="8.8"/>
<circle cx="816.2" cy="2232.2" r="8.8"/>
<circle cx="821.8" cy="2220.9" r="8.8"/>
<circle cx="813.7" cy="2176.5" r="8.8"/>
<circle cx="791.8" cy="2201.5" r="8.8"/>
<circle cx="800.2" cy="2162.3" r="8.8"/>
<circle cx="785.9" cy="2230.5" r="8.8"/>
<circle cx="828" cy="2193" r="8.8"/>
<circle cx="793.2" cy="2197" r="8.8"/>
<circle cx="789.3" cy="2210.8" r="8.8"/>
<circle cx="827.3" cy="2169" r="8.8"/>
<circle cx="818.8" cy="2197.5" r="8.8"/>
<circle cx="813.1" cy="2212.7" r="8.8"/>
<circle cx="795" cy="2195.8" r="8.8"/>
<circle cx="793.2" cy="2192.5" r="8.8"/>
<circle cx="798" cy="2187.3" r="8.8"/>
<circle cx="826.7" cy="2215.5" r="8.8"/>
<circle cx="796.1" cy="2201.1" r="8.8"/>
<circle cx="835.9" cy="2235.2" r="8.8"/>
<circle cx="812.9" cy="2189.2" r="8.8"/>
<circle cx="799.1" cy="2146.6" r="8.8"/>
<circle cx="804.2" cy="2240.7" r="8.8"/>
<circle cx="790.6" cy="2232.6" r="8.8"/>
<circle cx="785" cy="2220.5" r="8.8"/>
<circle cx="800.5" cy="2159.2" r="8.8"/>
<circle cx="821.2" cy="2227" r="8.8"/>
<circle cx="830.6" cy="2178.6" r="8.8"/>
<circle cx="792.7" cy="2193.1" r="8.8"/>
<circle cx="790.9" cy="2175.5" r="8.8"/>
<circle cx="821.2" cy="2228" r="8.8"/>
<circle cx="804.9" cy="2169.7" r="8.8"/>
<circle cx="825.8" cy="2197.6" r="8.8"/>
<circle cx="831.3" cy="2204.8" r="8.8"/>
<circle cx="868.2" cy="2146.4" r="8.8"/>
<circle cx="843.8" cy="2177.3" r="8.8"/>
<circle cx="864.1" cy="2155.2" r="8.8"/>
<circle cx="841.4" cy="2097.6" r="8.8"/>
<circle cx="832.2" cy="2059.2" r="8.8"/>
<circle cx="862.6" cy="2129.6" r="8.8"/>
<circle cx="847.5" cy="2069.4" r="8.8"/>
<circle cx="829.9" cy="2139.1" r="8.8"/>
<circle cx="831.9" cy="2134.2" r="8.8"/>
<circle cx="787.3" cy="2125.2" r="8.8"/>
<circle cx="837.1" cy="2086.2" r="8.8"/>
<circle cx="794.7" cy="2034.9" r="8.8"/>
<circle cx="843.7" cy="2204.3" r="8.8"/>
<circle cx="798.7" cy="2059.1" r="8.8"/>
<circle cx="800.9" cy="2117.9" r="8.8"/>
<circle cx="807.1" cy="2133.7" r="8.8"/>
<circle cx="790.3" cy="2101.9" r="8.8"/>
<circle cx="833.1" cy="2110.9" r="8.8"/>
<circle cx="846.8" cy="2121.7" r="8.8"/>
<circle cx="790.2" cy="2101.2" r="8.8"/>
<circle cx="827.8" cy="2056" r="8.8"/>
<circle cx="809.6" cy="2090.7" r="8.8"/>
<circle cx="797.4" cy="2111.7" r="8.8"/>
<circle cx="836.7" cy="2050.1" r="8.8"/>
<circle cx="852" cy="2108.9" r="8.8"/>
<circle cx="884.2" cy="2205.9" r="8.8"/>
<circle cx="911.3" cy="2096.6" r="8.8"/>
<circle cx="902.9" cy="2192.8" r="8.8"/>
<circle cx="900.6" cy="2101.5" r="8.8"/>
<circle cx="938.8" cy="2198.6" r="8.8"/>
<circle cx="918.2" cy="2131.5" r="8.8"/>
<circle cx="886.2" cy="2109.7" r="8.8"/>
<circle cx="868.5" cy="2104.7" r="8.8"/>
<circle cx="865.3" cy="2075.9" r="8.8"/>
<circle cx="873.5" cy="2205.4" r="8.8"/>
<circle cx="916.5" cy="1753.1" r="8.8"/>
<circle cx="879" cy="1772.4" r="8.8"/>
<circle cx="797" cy="1802.5" r="8.8"/>
<circle cx="958.6" cy="1812" r="8.8"/>
<circle cx="988.2" cy="1859.8" r="8.8"/>
<circle cx="1063.2" cy="1856.9" r="8.8"/>
<circle cx="871.6" cy="1886.6" r="8.8"/>
<circle cx="890.2" cy="1884.9" r="8.8"/>
<circle cx="816" cy="1898.1" r="8.8"/>
<circle cx="829.2" cy="1900.6" r="8.8"/>
<circle cx="942.5" cy="1902.2" r="8.8"/>
<circle cx="984.1" cy="1918.7" r="8.8"/>
<circle cx="1075.6" cy="1917.9" r="8.8"/>
<circle cx="824.2" cy="1915.8" r="8.8"/>
<circle cx="835.8" cy="1918.7" r="8.8"/>
<circle cx="975.9" cy="1934.4" r="8.8"/>
<circle cx="1031.1" cy="1948" r="8.8"/>
<circle cx="868.3" cy="1937.3" r="8.8"/>
<circle cx="859.3" cy="1954.2" r="8.8"/>
<circle cx="865.4" cy="1950.9" r="8.8"/>
<circle cx="800.3" cy="1963.2" r="8.8"/>
<circle cx="802.8" cy="1973.5" r="8.8"/>
<circle cx="886.9" cy="1973.5" r="8.8"/>
<circle cx="1193.9" cy="1976.4" r="8.8"/>
<circle cx="786.3" cy="1994.1" r="8.8"/>
<circle cx="794.6" cy="2006.5" r="8.8"/>
<circle cx="858.4" cy="1997" r="8.8"/>
<circle cx="979.2" cy="1991.3" r="8.8"/>
<circle cx="981.6" cy="1999.5" r="8.8"/>
<circle cx="956.9" cy="2011.5" r="8.8"/>
<circle cx="813.9" cy="2025.9" r="8.8"/>
<circle cx="811" cy="2035.4" r="8.8"/>
<circle cx="791.3" cy="2031.2" r="8.8"/>
<circle cx="844" cy="2053.9" r="8.8"/>
<circle cx="863.4" cy="2060.1" r="8.8"/>
<circle cx="1107.7" cy="2064.2" r="8.8"/>
<circle cx="1095.4" cy="2078.6" r="8.8"/>
<circle cx="925.2" cy="2076.6" r="8.8"/>
<circle cx="959" cy="2073.7" r="8.8"/>
<circle cx="856" cy="2074.5" r="8.8"/>
<circle cx="875.7" cy="2078.6" r="8.8"/>
<circle cx="881.9" cy="2084.8" r="8.8"/>
<circle cx="877.8" cy="2093" r="8.8"/>
<circle cx="943.7" cy="2093" r="8.8"/>
<circle cx="1036" cy="2097.2" r="8.8"/>
<circle cx="894.3" cy="2106.2" r="8.8"/>
<circle cx="961.5" cy="2105.4" r="8.8"/>
<circle cx="787.7" cy="2076.4" r="8.8"/>
<circle cx="805.3" cy="2067.6" r="8.8"/>
<circle cx="814.1" cy="2085.2" r="8.8"/>
<circle cx="831.6" cy="2067.6" r="8.8"/>
<circle cx="844.8" cy="2076.4" r="8.8"/>
<circle cx="902" cy="2102.7" r="8.8"/>
<circle cx="910.8" cy="2120.3" r="8.8"/>
<circle cx="932.7" cy="2124.7" r="8.8"/>
<circle cx="945.9" cy="2120.3" r="8.8"/>
<circle cx="866.8" cy="2107.1" r="8.8"/>
<circle cx="853.6" cy="2120.3" r="8.8"/>
<circle cx="844.8" cy="2137.9" r="8.8"/>
<circle cx="831.6" cy="2151.1" r="8.8"/>
<circle cx="814.1" cy="2137.9" r="8.8"/>
<circle cx="796.5" cy="2124.7" r="8.8"/>
<circle cx="787.7" cy="2111.5" r="8.8"/>
<circle cx="805.3" cy="2098.4" r="8.8"/>
<circle cx="884.4" cy="2164.3" r="8.8"/>
<circle cx="902" cy="2177.5" r="8.8"/>
<circle cx="915.2" cy="2190.7" r="8.8"/>
<circle cx="924" cy="2199.5" r="8.8"/>
<circle cx="924" cy="2230.2" r="8.8"/>
<circle cx="902" cy="2203.8" r="8.8"/>
<circle cx="888.8" cy="2212.6" r="8.8"/>
<circle cx="875.6" cy="2221.4" r="8.8"/>
<circle cx="866.8" cy="2234.6" r="8.8"/>
<circle cx="858" cy="2239" r="8.8"/>
<circle cx="844.8" cy="2230.2" r="8.8"/>
<circle cx="831.6" cy="2217" r="8.8"/>
<circle cx="853.6" cy="2195.1" r="8.8"/>
<circle cx="862.4" cy="2186.3" r="8.8"/>
<circle cx="840.4" cy="2181.9" r="8.8"/>
<circle cx="827.3" cy="2190.7" r="8.8"/>
</g>
</g>
<g stroke="#bdbdbd" stroke-width="5.5" stroke-dasharray="22.2 22.2" fill="none">
<path d="M596.4 2499.2V1435.7"/>
<path d="M780.8 2499.2V1435.7"/>
<path d="M105.8 2247.2H1271.6"/>
</g>
<path d="M709.4 1932L808.7 2068.8" stroke="#8c8c8c" stroke-width="3.6"/>
<path d="M851 1929.4L868.7 1888.2" stroke="#8c8c8c" stroke-width="3.6"/>
<path d="M866.3 2032L836.6 2066.3" stroke="#8c8c8c" stroke-width="3.6"/>
<path d="M975 2048.5L927.2 2076.6" stroke="#8c8c8c" stroke-width="3.6"/>
<path d="M503.4 2017.3L503.4 2056" stroke="#8c8c8c" stroke-width="3.6"/>
<path d="M638.7 2094L808.7 2138.4" stroke="#8c8c8c" stroke-width="3.6"/>
<path d="M872.5 2133.5L818.5 2076.4" stroke="#8c8c8c" stroke-width="3.6"/>
<path d="M1012.7 2126.9L882.2 2085.2" stroke="#8c8c8c" stroke-width="3.6"/>
<path d="M780.2 2153.3L807.5 2144.1" stroke="#8c8c8c" stroke-width="3.6"/>
<path d="M958.2 2211.8L838.2 2150.2" stroke="#8c8c8c" stroke-width="3.6"/>
<path d="M559.1 2212.6L585.5 2186.3" stroke="#8c8c8c" stroke-width="3.6"/>
<path d="M765.3 2234.2L799.6 2204.6" stroke="#8c8c8c" stroke-width="3.6"/>
<path d="M856.6 2262.8L827 2210.3" stroke="#8c8c8c" stroke-width="3.6"/>
<path d="M956.9 2291.8L844.8 2177.5" stroke="#8c8c8c" stroke-width="3.6"/>
<path d="M769.9 2315.2L792.7 2233.1" stroke="#8c8c8c" stroke-width="3.6"/>
<rect x="603.3" y="1914.8" width="106.5" height="35.3" rx="4.5" fill="#fff" fill-opacity=".72" stroke="#dc3e3e" stroke-width="1.3"/>
<text x="656.6" y="1941" font-size="22.8" fill="#dc3e3e" text-anchor="middle">Q9R0H0</text>
<rect x="754" y="1917.8" width="96.4" height="35.3" rx="4.5" fill="#fff" fill-opacity=".72" stroke="#dc3e3e" stroke-width="1.3"/>
<text x="802.2" y="1944" font-size="22.8" fill="#dc3e3e" text-anchor="middle">P43883</text>
<rect x="660.4" y="1997" width="109" height="35.3" rx="4.5" fill="#fff" fill-opacity=".72" stroke="#dc3e3e" stroke-width="1.3"/>
<text x="714.9" y="2023.2" font-size="22.8" fill="#dc3e3e" text-anchor="middle">Q9DBD0</text>
<rect x="829.2" y="1997" width="102.7" height="35.3" rx="4.5" fill="#fff" fill-opacity=".72" stroke="#dc3e3e" stroke-width="1.3"/>
<text x="880.6" y="2023.2" font-size="22.8" fill="#dc3e3e" text-anchor="middle">Q9Z2A9</text>
<rect x="975.9" y="2029.2" width="96.4" height="35.3" rx="4.5" fill="#fff" fill-opacity=".72" stroke="#dc3e3e" stroke-width="1.3"/>
<text x="1024.1" y="2055.5" font-size="22.8" fill="#dc3e3e" text-anchor="middle">P46412</text>
<rect x="505" y="1994.1" width="96.4" height="35.3" rx="4.5" fill="#fff" fill-opacity=".72" stroke="#63b842" stroke-width="1.3"/>
<text x="553.2" y="2020.3" font-size="22.8" fill="#63b842" text-anchor="middle">P08074</text>
<rect x="541.1" y="2077.6" width="97.2" height="35.3" rx="4.5" fill="#fff" fill-opacity=".72" stroke="#dc3e3e" stroke-width="1.3"/>
<text x="589.7" y="2103.8" font-size="22.8" fill="#dc3e3e" text-anchor="middle">Q61147</text>
<rect x="872.5" y="2115.9" width="96.4" height="35.3" rx="4.5" fill="#fff" fill-opacity=".72" stroke="#dc3e3e" stroke-width="1.3"/>
<text x="920.7" y="2142.2" font-size="22.8" fill="#dc3e3e" text-anchor="middle">P41216</text>
<rect x="1012.7" y="2109.3" width="96.4" height="35.3" rx="4.5" fill="#fff" fill-opacity=".72" stroke="#dc3e3e" stroke-width="1.3"/>
<text x="1060.9" y="2135.6" font-size="22.8" fill="#dc3e3e" text-anchor="middle">P09813</text>
<rect x="683.2" y="2140.7" width="96.4" height="35.3" rx="4.5" fill="#fff" fill-opacity=".72" stroke="#dc3e3e" stroke-width="1.3"/>
<text x="731.4" y="2166.9" font-size="22.8" fill="#dc3e3e" text-anchor="middle">P34914</text>
<rect x="958.2" y="2195.9" width="98.9" height="35.3" rx="4.5" fill="#fff" fill-opacity=".72" stroke="#dc3e3e" stroke-width="1.3"/>
<text x="1007.7" y="2222.2" font-size="22.8" fill="#dc3e3e" text-anchor="middle">Q60994</text>
<rect x="483.5" y="2212.6" width="106.5" height="35.3" rx="4.5" fill="#fff" fill-opacity=".72" stroke="#63b842" stroke-width="1.3"/>
<text x="536.7" y="2238.8" font-size="22.8" fill="#63b842" text-anchor="middle">Q9QUJ7</text>
<rect x="669.5" y="2220.6" width="96.4" height="35.3" rx="4.5" fill="#fff" fill-opacity=".72" stroke="#dc3e3e" stroke-width="1.3"/>
<text x="717.7" y="2246.8" font-size="22.8" fill="#dc3e3e" text-anchor="middle">P04925</text>
<rect x="813.7" y="2261.6" width="98.9" height="35.3" rx="4.5" fill="#fff" fill-opacity=".72" stroke="#dc3e3e" stroke-width="1.3"/>
<text x="863.2" y="2287.8" font-size="22.8" fill="#dc3e3e" text-anchor="middle">Q05421</text>
<rect x="956.9" y="2276.4" width="102.7" height="35.3" rx="4.5" fill="#fff" fill-opacity=".72" stroke="#dc3e3e" stroke-width="1.3"/>
<text x="1008.3" y="2302.7" font-size="22.8" fill="#dc3e3e" text-anchor="middle">Q9Z2V4</text>
<rect x="670.7" y="2300.4" width="98.9" height="35.3" rx="4.5" fill="#fff" fill-opacity=".72" stroke="#dc3e3e" stroke-width="1.3"/>
<text x="720.2" y="2326.7" font-size="22.8" fill="#dc3e3e" text-anchor="middle">Q60714</text>
<g stroke="#1a1a1a" stroke-width="2.6" fill="none">
<path d="M105.8 1435.7V2499.2H1271.6"/>
</g>
<g stroke="#333" stroke-width="2.2">
<path d="M98.8 2451.1H105.8"/>
<path d="M98.8 2137.6H105.8"/>
<path d="M98.8 1824.2H105.8"/>
<path d="M98.8 1510.7H105.8"/>
<path d="M338.2 2499.2V2506.2"/>
<path d="M688.6 2499.2V2506.2"/>
<path d="M1039 2499.2V2506.2"/>
</g>
<g font-size="23" fill="#4d4d4d">
<text x="94.3" y="2459.4" text-anchor="end">0</text>
<text x="94.3" y="2145.9" text-anchor="end">2</text>
<text x="94.3" y="1832.5" text-anchor="end">4</text>
<text x="94.3" y="1519" text-anchor="end">6</text>
<text x="338.2" y="2529.2" text-anchor="middle">-1</text>
<text x="688.6" y="2529.2" text-anchor="middle">0</text>
<text x="1039" y="2529.2" text-anchor="middle">1</text>
</g>
<text x="688.7" y="2588.6" font-size="39.3" fill="#1a1a1a" text-anchor="middle">log2(S/V)</text>
<g transform="translate(38.2 2107.5) rotate(-90)" fill="#1a1a1a">
<rect x="2" y="-14.4" width="24" height="3" />
<text x="35.1" y="0" font-size="39">log</text>
<text x="88.2" y="6" font-size="27">10</text>
<text x="120.5" y="-4" font-size="47">(</text>
<text x="136.5" y="0" font-size="39">PValue</text>
<text x="265.5" y="-4" font-size="47">)</text>
</g>
<g>
<rect x="1339.6" y="1898.7" width="43.7" height="58.8" fill="#fff" stroke="#1a1a1a" stroke-width="2.1"/>
<circle cx="1361.4" cy="1928.1" r="9" fill="#e62323" fill-opacity=".6"/>
<text x="1398.1" y="1936.1" font-size="23.5" fill="#1a1a1a">UP</text>
<rect x="1339.6" y="1957.5" width="43.7" height="58.8" fill="#fff" stroke="#1a1a1a" stroke-width="2.1"/>
<circle cx="1361.4" cy="1986.9" r="9" fill="#6cbe4c" fill-opacity=".8"/>
<text x="1398.1" y="1994.9" font-size="23.5" fill="#1a1a1a">DOWN</text>
<rect x="1339.6" y="2016.3" width="43.7" height="58.8" fill="#fff" stroke="#1a1a1a" stroke-width="2.1"/>
<circle cx="1361.4" cy="2045.7" r="9" fill="#272727" fill-opacity=".57"/>
<text x="1398.1" y="2053.7" font-size="23.5" fill="#1a1a1a">NOT</text>
</g>
</svg></body></html>
